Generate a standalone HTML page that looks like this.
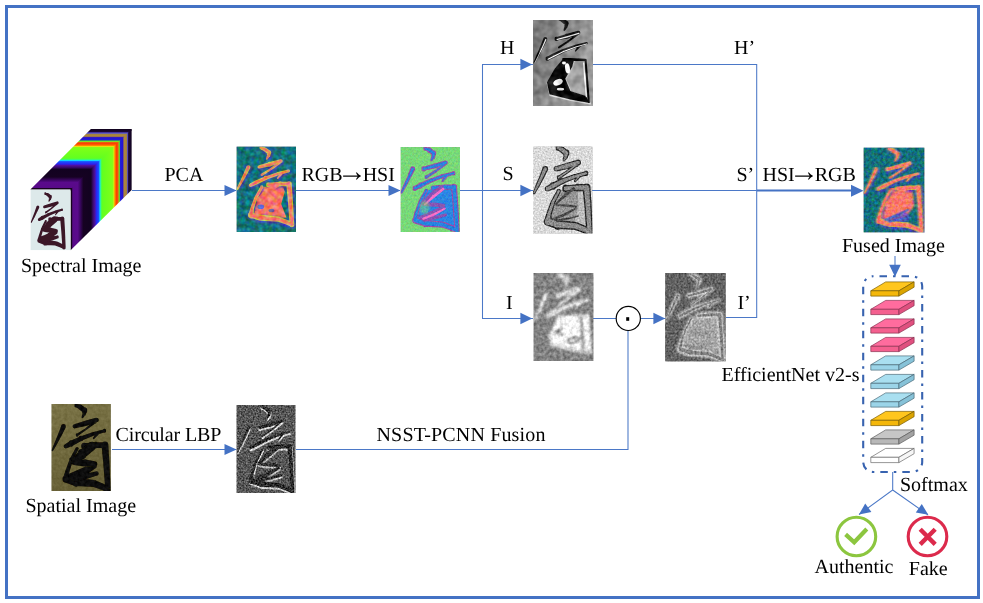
<!DOCTYPE html>
<html lang="en"><head><meta charset="utf-8"><title>Spectral-spatial fusion pipeline</title>
<style>html,body{margin:0;padding:0;background:#fff}svg{display:block}body>svg{will-change:transform}text{font-family:"Liberation Serif",serif;font-size:20px;fill:#000;text-rendering:geometricPrecision}</style>
</head><body>
<svg width="983" height="603" viewBox="0 0 983 603">
<defs>
<filter id="nS" filterUnits="userSpaceOnUse" x="0" y="0" width="62" height="90" color-interpolation-filters="sRGB"><feTurbulence type="fractalNoise" baseFrequency="0.6" numOctaves="2" seed="5" result="n"/><feColorMatrix in="n" type="matrix" values="1 0 0 0 0  1 0 0 0 0  1 0 0 0 0  0 0 0 0 1" result="g"/><feComposite in="SourceGraphic" in2="g" operator="arithmetic" k1="0" k2="1" k3="0.4" k4="-0.200"/></filter>
<filter id="nI" filterUnits="userSpaceOnUse" x="0" y="0" width="62" height="90" color-interpolation-filters="sRGB"><feTurbulence type="fractalNoise" baseFrequency="0.3" numOctaves="2" seed="9" result="n"/><feColorMatrix in="n" type="matrix" values="1 0 0 0 0  1 0 0 0 0  1 0 0 0 0  0 0 0 0 1" result="g"/><feComposite in="SourceGraphic" in2="g" operator="arithmetic" k1="0" k2="1" k3="0.42" k4="-0.210"/></filter>
<filter id="nI2" filterUnits="userSpaceOnUse" x="0" y="0" width="62" height="90" color-interpolation-filters="sRGB"><feTurbulence type="fractalNoise" baseFrequency="0.5" numOctaves="2" seed="13" result="n"/><feColorMatrix in="n" type="matrix" values="1 0 0 0 0  1 0 0 0 0  1 0 0 0 0  0 0 0 0 1" result="g"/><feComposite in="SourceGraphic" in2="g" operator="arithmetic" k1="0" k2="1" k3="0.5" k4="-0.250"/></filter>
<filter id="nL" filterUnits="userSpaceOnUse" x="0" y="0" width="62" height="90" color-interpolation-filters="sRGB"><feTurbulence type="fractalNoise" baseFrequency="0.6" numOctaves="2" seed="21" result="n"/><feColorMatrix in="n" type="matrix" values="1 0 0 0 0  1 0 0 0 0  1 0 0 0 0  0 0 0 0 1" result="g"/><feComposite in="SourceGraphic" in2="g" operator="arithmetic" k1="0" k2="1" k3="0.7" k4="-0.350"/></filter>
<filter id="nH" filterUnits="userSpaceOnUse" x="0" y="0" width="62" height="90" color-interpolation-filters="sRGB"><feTurbulence type="fractalNoise" baseFrequency="0.12" numOctaves="2" seed="4" result="n"/><feColorMatrix in="n" type="matrix" values="1 0 0 0 0  1 0 0 0 0  1 0 0 0 0  0 0 0 0 1" result="g"/><feComposite in="SourceGraphic" in2="g" operator="arithmetic" k1="0" k2="1" k3="0.35" k4="-0.175"/></filter>
<filter id="nP" filterUnits="userSpaceOnUse" x="0" y="0" width="62" height="90" color-interpolation-filters="sRGB"><feTurbulence type="fractalNoise" baseFrequency="0.22" numOctaves="2" seed="17" result="n"/><feColorMatrix in="n" type="matrix" values="0.5 0 0 0 0.25  0 1 0 0 0  0 0 1.3 0 -0.15  0 0 0 0 1" result="g"/><feComposite in="SourceGraphic" in2="g" operator="arithmetic" k1="0" k2="1" k3="0.5" k4="-0.250"/></filter>
<filter id="nF" filterUnits="userSpaceOnUse" x="0" y="0" width="62" height="90" color-interpolation-filters="sRGB"><feTurbulence type="fractalNoise" baseFrequency="0.35" numOctaves="2" seed="29" result="n"/><feColorMatrix in="n" type="matrix" values="0.5 0 0 0 0.25  0 1 0 0 0  0 0 1.3 0 -0.15  0 0 0 0 1" result="g"/><feComposite in="SourceGraphic" in2="g" operator="arithmetic" k1="0" k2="1" k3="0.45" k4="-0.225"/></filter>
<filter id="nG" filterUnits="userSpaceOnUse" x="0" y="0" width="62" height="90" color-interpolation-filters="sRGB"><feTurbulence type="fractalNoise" baseFrequency="0.5" numOctaves="2" seed="31" result="n"/><feColorMatrix in="n" type="matrix" values="1 0 0 0 0  0 1 0 0 0  0 0 1 0 0  0 0 0 0 1" result="g"/><feComposite in="SourceGraphic" in2="g" operator="arithmetic" k1="0" k2="1" k3="0.25" k4="-0.125"/></filter>
<filter id="nO" filterUnits="userSpaceOnUse" x="0" y="0" width="62" height="90" color-interpolation-filters="sRGB"><feTurbulence type="fractalNoise" baseFrequency="0.3" numOctaves="2" seed="37" result="n"/><feColorMatrix in="n" type="matrix" values="1 0 0 0 0  1 0 0 0 0  1 0 0 0 0  0 0 0 0 1" result="g"/><feComposite in="SourceGraphic" in2="g" operator="arithmetic" k1="0" k2="1" k3="0.12" k4="-0.060"/></filter>
<filter id="b05" x="-20%" y="-20%" width="140%" height="140%"><feGaussianBlur stdDeviation="0.5"/></filter>
<filter id="b1" x="-20%" y="-20%" width="140%" height="140%"><feGaussianBlur stdDeviation="0.8"/></filter>
<filter id="b2" x="-20%" y="-20%" width="140%" height="140%"><feGaussianBlur stdDeviation="1.3"/></filter>
<filter id="b3" x="-20%" y="-20%" width="140%" height="140%"><feGaussianBlur stdDeviation="2.0"/></filter>
<linearGradient id="gTop" gradientUnits="userSpaceOnUse" x1="0" y1="189.6" x2="0" y2="129"><stop offset="0.0000" stop-color="#14021c"/><stop offset="0.0233" stop-color="#18031f"/><stop offset="0.0333" stop-color="#580a88"/><stop offset="0.1167" stop-color="#5a0a8c"/><stop offset="0.1583" stop-color="#3a0660"/><stop offset="0.2083" stop-color="#160222"/><stop offset="0.3333" stop-color="#120220"/><stop offset="0.3667" stop-color="#3a0a6a"/><stop offset="0.4000" stop-color="#5010a0"/><stop offset="0.4200" stop-color="#2a22f0"/><stop offset="0.4617" stop-color="#1a50ff"/><stop offset="0.4817" stop-color="#10e0ff"/><stop offset="0.4983" stop-color="#40ff60"/><stop offset="0.5183" stop-color="#62ff20"/><stop offset="0.6733" stop-color="#7cff18"/><stop offset="0.6967" stop-color="#8cf818"/><stop offset="0.7100" stop-color="#e8e810"/><stop offset="0.7233" stop-color="#ff9000"/><stop offset="0.7550" stop-color="#ff3800"/><stop offset="0.7800" stop-color="#e86010"/><stop offset="0.7933" stop-color="#80e020"/><stop offset="0.8067" stop-color="#40c040"/><stop offset="0.8167" stop-color="#2020d8"/><stop offset="0.8583" stop-color="#2810d0"/><stop offset="0.8683" stop-color="#806070"/><stop offset="0.8850" stop-color="#b08838"/><stop offset="0.9167" stop-color="#a08040"/><stop offset="0.9267" stop-color="#6060c0"/><stop offset="0.9433" stop-color="#4030a0"/><stop offset="0.9500" stop-color="#1c0838"/><stop offset="1.0000" stop-color="#10021c"/></linearGradient>
<linearGradient id="gSide" gradientUnits="userSpaceOnUse" x1="70.6" y1="0" x2="131.6" y2="0"><stop offset="0.0000" stop-color="#14021c"/><stop offset="0.0233" stop-color="#18031f"/><stop offset="0.0333" stop-color="#580a88"/><stop offset="0.1167" stop-color="#5a0a8c"/><stop offset="0.1583" stop-color="#3a0660"/><stop offset="0.2083" stop-color="#160222"/><stop offset="0.3333" stop-color="#120220"/><stop offset="0.3667" stop-color="#3a0a6a"/><stop offset="0.4000" stop-color="#5010a0"/><stop offset="0.4200" stop-color="#2a22f0"/><stop offset="0.4617" stop-color="#1a50ff"/><stop offset="0.4817" stop-color="#10e0ff"/><stop offset="0.4983" stop-color="#40ff60"/><stop offset="0.5183" stop-color="#62ff20"/><stop offset="0.6733" stop-color="#7cff18"/><stop offset="0.6967" stop-color="#8cf818"/><stop offset="0.7100" stop-color="#e8e810"/><stop offset="0.7233" stop-color="#ff9000"/><stop offset="0.7550" stop-color="#ff3800"/><stop offset="0.7800" stop-color="#e86010"/><stop offset="0.7933" stop-color="#80e020"/><stop offset="0.8067" stop-color="#40c040"/><stop offset="0.8167" stop-color="#2020d8"/><stop offset="0.8583" stop-color="#2810d0"/><stop offset="0.8683" stop-color="#806070"/><stop offset="0.8850" stop-color="#b08838"/><stop offset="0.9167" stop-color="#a08040"/><stop offset="0.9267" stop-color="#6060c0"/><stop offset="0.9433" stop-color="#4030a0"/><stop offset="0.9500" stop-color="#1c0838"/><stop offset="1.0000" stop-color="#10021c"/></linearGradient>
<linearGradient id="gH" x1="0" y1="0" x2="1" y2="0.3"><stop offset="0" stop-color="#767676"/><stop offset="0.6" stop-color="#8e8e8e"/><stop offset="1" stop-color="#9a9a9a"/></linearGradient>
<linearGradient id="gSp" x1="0" y1="0" x2="0.2" y2="1"><stop offset="0" stop-color="#7a7346"/><stop offset="1" stop-color="#676036"/></linearGradient>
</defs>
<rect width="983" height="603" fill="#fff"/>
<rect x="6.5" y="6.5" width="972" height="591" fill="none" stroke="#4472c4" stroke-width="3"/>
<g fill="none" stroke="#4b78c7" stroke-width="1.05">
<path d="M132 190.5 H236"/>
<path d="M296 190.5 H400"/>
<path d="M460 190.5 H533"/>
<path d="M533 64.5 H482.5 V318.5 H533"/>
<path d="M593 64.5 H756.7 V317.5 H726"/>
<path d="M592 190.5 H756.7"/>
<path d="M593 318.5 H616"/>
<path d="M641 318.5 H666"/>
<path d="M112 449.5 H236"/>
<path d="M296 449.5 H628 V331"/>
<path d="M895 256 V270"/>
<path d="M892.7 472 V490 L859 514.5 M892.7 490 L928 514.8"/>
</g>
<path d="M757 190.6 H855" fill="none" stroke="#4472c4" stroke-width="2"/>
<polygon points="236.5,190.5 224.5,196.0 224.5,185.0" fill="#4472c4"/>
<polygon points="400.5,190.5 388.5,196.0 388.5,185.0" fill="#4472c4"/>
<polygon points="532.2,64.5 520.4,70.2 520.4,58.8" fill="#4472c4"/>
<polygon points="532.2,190.5 520.4,196.2 520.4,184.8" fill="#4472c4"/>
<polygon points="532.2,318.5 520.4,324.2 520.4,312.8" fill="#4472c4"/>
<polygon points="665.2,318.5 653.4,324.2 653.4,312.8" fill="#4472c4"/>
<polygon points="236.5,449.5 224.5,455.0 224.5,444.0" fill="#4472c4"/>
<polygon points="863.5,190.7 851.0,196.7 851.0,184.7" fill="#4472c4"/>
<polygon points="895.0,276.8 889.2,264.8 900.8,264.8" fill="#4472c4"/>
<polygon points="859.0,514.5 865.2,503.5 871.4,512.0" fill="#4472c4"/>
<polygon points="928.2,514.8 915.8,512.5 921.8,503.9" fill="#4472c4"/>
<polygon points="30.4,189.6 70.6,189.6 70.6,191 131.6,130.4 131.6,129 90.9,129" fill="url(#gTop)"/>
<polygon points="70.6,189.6 131.6,129 131.6,190 70.6,250.3" fill="url(#gSide)"/>
<svg x="30.4" y="189.6" width="40.2" height="60.7" viewBox="0 0 40.2 60.7" overflow="hidden">
<g>
<rect width="40.2" height="60.7" fill="#dde9ea"/>

<g transform="scale(0.6700 0.6977)">
<g transform="translate(0.4 4.4) scale(0.873 0.914)">
<path d="M23.4 1.5a1.7 1.7 0 1 0 3.3 0a1.7 1.7 0 1 0 -3.3 0zM26.5 3a2.5 2.5 0 1 0 5 0a2.5 2.5 0 1 0 -5 0zM30.7 6.5a2.8 2.8 0 1 0 5.5 0a2.8 2.8 0 1 0 -5.5 0zM31.1 10a1.9 1.9 0 1 0 3.9 0a1.9 1.9 0 1 0 -3.9 0zM30.3 13.5a0.9 0.9 0 1 0 1.8 0a0.9 0.9 0 1 0 -1.8 0zM24.4 3L28.1 5.3L29.9 0.7L25.6 0zM27.5 5L31.8 8.7L35.2 4.3L30.5 1zM30.8 6.1L31.1 9.7L34.9 10.3L36.2 6.9zM31.3 9.1L30.4 13.1L32 13.9L34.7 10.9zM9.8 22.5a2.5 2.5 0 1 0 5 0a2.5 2.5 0 1 0 -5 0zM7 30a2 2 0 1 0 4.1 0a2 2 0 1 0 -4.1 0zM3.4 38.5a1.6 1.6 0 1 0 3.2 0a1.6 1.6 0 1 0 -3.2 0zM0.1 46.5a0.9 0.9 0 1 0 1.8 0a0.9 0.9 0 1 0 -1.8 0zM10 21.5L7.1 29.2L10.9 30.8L14.6 23.5zM7.2 29.1L3.6 37.8L6.4 39.2L10.8 30.9zM3.6 37.8L0.2 46.1L1.8 46.9L6.4 39.2zM21.3 22.3a2.2 2.2 0 1 0 4.4 0a2.2 2.2 0 1 0 -4.4 0zM31.3 19.5a2.7 2.7 0 1 0 5.4 0a2.7 2.7 0 1 0 -5.4 0zM43.1 16a2.4 2.4 0 1 0 4.8 0a2.4 2.4 0 1 0 -4.8 0zM24.1 24.4L34.7 22.1L33.3 16.9L22.9 20.2zM34.8 22.1L46.2 18.3L44.8 13.7L33.2 16.9zM42.6 18a1.4 1.4 0 1 0 2.7 0a1.4 1.4 0 1 0 -2.7 0zM33.9 25a1.1 1.1 0 1 0 2.2 0a1.1 1.1 0 1 0 -2.2 0zM24.6 31a1.4 1.4 0 1 0 2.7 0a1.4 1.4 0 1 0 -2.7 0zM43.2 16.9L34.3 24.1L35.7 25.9L44.8 19.1zM34.4 24.1L25.2 29.9L26.8 32.1L35.6 25.9zM51.9 26.8a1.7 1.7 0 1 0 3.3 0a1.7 1.7 0 1 0 -3.3 0zM40.1 30a1.9 1.9 0 1 0 3.9 0a1.9 1.9 0 1 0 -3.9 0zM27.7 34.5a2.3 2.3 0 1 0 4.5 0a2.3 2.3 0 1 0 -4.5 0zM17.2 39.5a2.8 2.8 0 1 0 5.5 0a2.8 2.8 0 1 0 -5.5 0zM12.3 42.3a2.2 2.2 0 1 0 4.4 0a2.2 2.2 0 1 0 -4.4 0zM53.1 25.2L41.5 28.1L42.5 31.9L53.9 28.4zM41.3 28.2L29.2 32.4L30.8 36.6L42.7 31.8zM29 32.5L18.8 37L21.2 42L31 36.5zM18.7 37L13.5 40.3L15.5 44.3L21.3 42zM45 29.5a1.5 1.5 0 1 0 3 0a1.5 1.5 0 1 0 -3 0zM41.7 34.5a0.8 0.8 0 1 0 1.6 0a0.8 0.8 0 1 0 -1.6 0zM45.3 28.6L41.9 34L43.1 35L47.7 30.4zM30.1 42a2.9 2.9 0 1 0 5.7 0a2.9 2.9 0 1 0 -5.7 0zM42.1 41a2.9 2.9 0 1 0 5.7 0a2.9 2.9 0 1 0 -5.7 0zM50.8 41a3.2 3.2 0 1 0 6.4 0a3.2 3.2 0 1 0 -6.4 0zM33.2 44.8L45.2 43.8L44.8 38.2L32.8 39.2zM45 43.9L54 44.2L54 37.8L45 38.1zM50.5 41a3.5 3.5 0 1 0 7 0a3.5 3.5 0 1 0 -7 0zM52.3 60a3.2 3.2 0 1 0 6.4 0a3.2 3.2 0 1 0 -6.4 0zM54.1 85a2.9 2.9 0 1 0 5.7 0a2.9 2.9 0 1 0 -5.7 0zM50.5 41.3L52.3 60.2L58.7 59.8L57.5 40.7zM52.3 60.2L54.2 85.2L59.8 84.8L58.7 59.8zM24.3 44.5a1.7 1.7 0 1 0 3.4 0a1.7 1.7 0 1 0 -3.4 0zM18.1 56a1.9 1.9 0 1 0 3.8 0a1.9 1.9 0 1 0 -3.8 0zM13.8 68a2.2 2.2 0 1 0 4.4 0a2.2 2.2 0 1 0 -4.4 0zM11.5 75a3.5 3.5 0 1 0 7 0a3.5 3.5 0 1 0 -7 0zM24.5 43.7L18.3 55.1L21.7 56.9L27.5 45.3zM18.2 55.4L13.9 67.3L18.1 68.7L21.8 56.6zM13.8 67.7L11.5 74.5L18.5 75.5L18.2 68.3zM11.2 75a3.8 3.8 0 1 0 7.7 0a3.8 3.8 0 1 0 -7.7 0zM20.9 78a4.2 4.2 0 1 0 8.3 0a4.2 4.2 0 1 0 -8.3 0zM39.5 79.5a3.5 3.5 0 1 0 7 0a3.5 3.5 0 1 0 -7 0zM48.8 83a3.2 3.2 0 1 0 6.4 0a3.2 3.2 0 1 0 -6.4 0zM54.1 85.5a2.9 2.9 0 1 0 5.7 0a2.9 2.9 0 1 0 -5.7 0zM13.9 78.7L23.8 82L26.2 74L16.1 71.3zM24.7 82.1L42.7 83L43.3 76L25.3 73.9zM41.7 82.8L50.8 86L53.2 80L44.3 76.2zM50.6 85.8L55.7 88L58.3 83L53.4 80.2z" fill="#3a1428" filter="url(#b05)"/>
<path d="M36.1 42a4.8 4.8 0 1 0 9.7 0a4.8 4.8 0 1 0 -9.7 0zM25.9 50a5.1 5.1 0 1 0 10.3 0a5.1 5.1 0 1 0 -10.3 0zM19.4 58a3.1 3.1 0 1 0 6.2 0a3.1 3.1 0 1 0 -6.2 0zM38 38.2L27.8 46L34.2 54L44 45.8zM27.5 46.3L20.4 55.7L24.6 60.3L34.5 53.7zM20.9 58.5a3.1 3.1 0 1 0 6.2 0a3.1 3.1 0 1 0 -6.2 0zM30 59a4 4 0 1 0 8 0a4 4 0 1 0 -8 0zM40.4 60a3.1 3.1 0 1 0 6.2 0a3.1 3.1 0 1 0 -6.2 0zM23.8 61.6L33.8 63L34.2 55L24.2 55.4zM33.6 63L43.2 63.1L43.8 56.9L34.4 55zM39.9 62a3.1 3.1 0 1 0 6.2 0a3.1 3.1 0 1 0 -6.2 0zM27.4 68a4.6 4.6 0 1 0 9.1 0a4.6 4.6 0 1 0 -9.1 0zM16.7 72.5a4.3 4.3 0 1 0 8.5 0a4.3 4.3 0 1 0 -8.5 0zM41.5 59.3L29.8 64L34.2 72L44.5 64.7zM30.3 63.8L19.4 68.5L22.6 76.5L33.7 72.2zM19.7 74a4.3 4.3 0 1 0 8.5 0a4.3 4.3 0 1 0 -8.5 0zM32.9 72a3.1 3.1 0 1 0 6.2 0a3.1 3.1 0 1 0 -6.2 0zM43 69.5a2.5 2.5 0 1 0 5.1 0a2.5 2.5 0 1 0 -5.1 0zM24.7 78.2L36.5 75.1L35.5 68.9L23.3 69.8zM36.8 75L46.1 72L44.9 67L35.2 69z" fill="#3a1428" filter="url(#b05)"/>
</g>
</g>

</g>
</svg>
<svg x="236.5" y="146.5" width="59.5" height="85.5" viewBox="0 0 59.5 85.5" overflow="hidden">
<g filter="url(#nP)">
<rect width="59.5" height="85.5" fill="#13727a"/>

<g transform="scale(0.9917 0.9828)">
<g transform="scale(0.98 0.93)">
<path d="M26 44L48 44L49.7 49.5L46 62.8L51.4 77.7L32.2 79.6L17.4 76L20 62.8z" fill="#f47664" filter="url(#b1)"/>
<path d="M22.8 1.5a2.2 2.2 0 1 0 4.3 0a2.2 2.2 0 1 0 -4.3 0zM26.1 3a2.9 2.9 0 1 0 5.8 0a2.9 2.9 0 1 0 -5.8 0zM30.3 6.5a3.2 3.2 0 1 0 6.3 0a3.2 3.2 0 1 0 -6.3 0zM30.6 10a2.4 2.4 0 1 0 4.8 0a2.4 2.4 0 1 0 -4.8 0zM29.7 13.5a1.5 1.5 0 1 0 3 0a1.5 1.5 0 1 0 -3 0zM24.2 3.5L28 5.7L30 0.3L25.8 -0.5zM27.2 5.3L31.6 9L35.4 4L30.8 0.7zM30.4 6.1L30.6 9.7L35.4 10.3L36.6 6.9zM30.9 8.9L29.9 12.8L32.5 14.2L35.1 11.1zM9.4 22.5a2.9 2.9 0 1 0 5.8 0a2.9 2.9 0 1 0 -5.8 0zM6.5 30a2.5 2.5 0 1 0 5 0a2.5 2.5 0 1 0 -5 0zM2.9 38.5a2.1 2.1 0 1 0 4.2 0a2.1 2.1 0 1 0 -4.2 0zM-0.5 46.5a1.5 1.5 0 1 0 3 0a1.5 1.5 0 1 0 -3 0zM9.6 21.3L6.7 29L11.3 31L15 23.7zM6.7 28.9L3.1 37.6L6.9 39.4L11.3 31.1zM3.1 37.6L-0.3 45.8L2.3 47.2L6.9 39.4zM20.8 22.3a2.7 2.7 0 1 0 5.3 0a2.7 2.7 0 1 0 -5.3 0zM30.9 19.5a3.1 3.1 0 1 0 6.2 0a3.1 3.1 0 1 0 -6.2 0zM42.7 16a2.8 2.8 0 1 0 5.6 0a2.8 2.8 0 1 0 -5.6 0zM24.2 24.9L34.8 22.5L33.2 16.5L22.8 19.7zM34.9 22.5L46.3 18.7L44.7 13.3L33.1 16.5zM42.1 18a1.9 1.9 0 1 0 3.8 0a1.9 1.9 0 1 0 -3.8 0zM33.3 25a1.7 1.7 0 1 0 3.3 0a1.7 1.7 0 1 0 -3.3 0zM24.1 31a1.9 1.9 0 1 0 3.8 0a1.9 1.9 0 1 0 -3.8 0zM42.8 16.5L34 23.7L36 26.3L45.2 19.5zM34.1 23.6L24.9 29.4L27.1 32.6L35.9 26.4zM51.3 26.8a2.2 2.2 0 1 0 4.3 0a2.2 2.2 0 1 0 -4.3 0zM39.6 30a2.4 2.4 0 1 0 4.8 0a2.4 2.4 0 1 0 -4.8 0zM27.3 34.5a2.7 2.7 0 1 0 5.4 0a2.7 2.7 0 1 0 -5.4 0zM16.8 39.5a3.2 3.2 0 1 0 6.3 0a3.2 3.2 0 1 0 -6.3 0zM11.8 42.3a2.7 2.7 0 1 0 5.3 0a2.7 2.7 0 1 0 -5.3 0zM52.9 24.7L41.4 27.7L42.6 32.3L54.1 28.9zM41.2 27.7L29 32L31 37L42.8 32.3zM28.8 32.1L18.6 36.7L21.4 42.3L31.2 36.9zM18.6 36.7L13.3 39.9L15.7 44.7L21.4 42.3zM44.5 29.5a2 2 0 1 0 4 0a2 2 0 1 0 -4 0zM41.1 34.5a1.4 1.4 0 1 0 2.8 0a1.4 1.4 0 1 0 -2.8 0zM44.9 28.2L41.4 33.6L43.6 35.4L48.1 30.8zM29.8 42a3.2 3.2 0 1 0 6.5 0a3.2 3.2 0 1 0 -6.5 0zM41.8 41a3.2 3.2 0 1 0 6.5 0a3.2 3.2 0 1 0 -6.5 0zM50.5 41a3.5 3.5 0 1 0 7.1 0a3.5 3.5 0 1 0 -7.1 0zM33.3 45.2L45.3 44.2L44.7 37.8L32.7 38.8zM45 44.2L54 44.5L54 37.5L45 37.8zM50.2 41a3.8 3.8 0 1 0 7.7 0a3.8 3.8 0 1 0 -7.7 0zM52 60a3.5 3.5 0 1 0 7.1 0a3.5 3.5 0 1 0 -7.1 0zM53.8 85a3.2 3.2 0 1 0 6.5 0a3.2 3.2 0 1 0 -6.5 0zM50.2 41.3L52 60.3L59 59.7L57.8 40.7zM52 60.2L53.8 85.2L60.2 84.8L59 59.8zM23.8 44.5a2.2 2.2 0 1 0 4.4 0a2.2 2.2 0 1 0 -4.4 0zM17.6 56a2.4 2.4 0 1 0 4.7 0a2.4 2.4 0 1 0 -4.7 0zM13.3 68a2.7 2.7 0 1 0 5.3 0a2.7 2.7 0 1 0 -5.3 0zM11.2 75a3.8 3.8 0 1 0 7.7 0a3.8 3.8 0 1 0 -7.7 0zM24.1 43.5L17.9 54.9L22.1 57.1L27.9 45.5zM17.8 55.3L13.5 67.2L18.5 68.8L22.2 56.7zM13.4 67.6L11.2 74.5L18.8 75.5L18.6 68.4zM10.9 75a4.1 4.1 0 1 0 8.2 0a4.1 4.1 0 1 0 -8.2 0zM20.6 78a4.4 4.4 0 1 0 8.8 0a4.4 4.4 0 1 0 -8.8 0zM39.2 79.5a3.8 3.8 0 1 0 7.7 0a3.8 3.8 0 1 0 -7.7 0zM48.5 83a3.5 3.5 0 1 0 7.1 0a3.5 3.5 0 1 0 -7.1 0zM53.8 85.5a3.2 3.2 0 1 0 6.5 0a3.2 3.2 0 1 0 -6.5 0zM13.8 78.9L23.7 82.2L26.3 73.8L16.2 71.1zM24.6 82.4L42.7 83.3L43.3 75.7L25.4 73.6zM41.6 83.1L50.7 86.3L53.3 79.7L44.4 75.9zM50.4 86.2L55.6 88.4L58.4 82.6L53.6 79.8z" fill="#5438b8" filter="url(#b2)" opacity="0.8" transform="translate(0.7 1.1)"/>
<path d="M23.5 1.5a1.5 1.5 0 1 0 3.1 0a1.5 1.5 0 1 0 -3.1 0zM26.9 3a2.1 2.1 0 1 0 4.2 0a2.1 2.1 0 1 0 -4.2 0zM31.2 6.5a2.3 2.3 0 1 0 4.6 0a2.3 2.3 0 1 0 -4.6 0zM31.3 10a1.7 1.7 0 1 0 3.5 0a1.7 1.7 0 1 0 -3.5 0zM30.2 13.5a1 1 0 1 0 2 0a1 1 0 1 0 -2 0zM24.5 2.9L28.3 5L29.7 1L25.5 0.1zM27.7 4.7L32.1 8.3L34.9 4.7L30.3 1.3zM31.2 6.2L31.3 9.8L34.7 10.2L35.8 6.8zM31.5 9.2L30.3 13L32.1 14L34.5 10.8zM10.2 22.5a2.1 2.1 0 1 0 4.2 0a2.1 2.1 0 1 0 -4.2 0zM7.2 30a1.8 1.8 0 1 0 3.6 0a1.8 1.8 0 1 0 -3.6 0zM3.5 38.5a1.5 1.5 0 1 0 3 0a1.5 1.5 0 1 0 -3 0zM0 46.5a1 1 0 1 0 2 0a1 1 0 1 0 -2 0zM10.4 21.6L7.3 29.3L10.7 30.7L14.2 23.4zM7.4 29.2L3.7 37.9L6.3 39.1L10.6 30.8zM3.7 37.8L0.1 46L1.9 47L6.3 39.2zM21.6 22.3a1.9 1.9 0 1 0 3.8 0a1.9 1.9 0 1 0 -3.8 0zM31.7 19.5a2.3 2.3 0 1 0 4.5 0a2.3 2.3 0 1 0 -4.5 0zM43.5 16a2 2 0 1 0 4.1 0a2 2 0 1 0 -4.1 0zM24 24.2L34.6 21.7L33.4 17.3L23 20.4zM34.7 21.7L46.1 18L44.9 14L33.3 17.3zM42.7 18a1.3 1.3 0 1 0 2.7 0a1.3 1.3 0 1 0 -2.7 0zM33.9 25a1.1 1.1 0 1 0 2.3 0a1.1 1.1 0 1 0 -2.3 0zM24.7 31a1.3 1.3 0 1 0 2.7 0a1.3 1.3 0 1 0 -2.7 0zM43.2 16.9L34.3 24.1L35.7 25.9L44.8 19.1zM34.4 24.1L25.3 29.9L26.7 32.1L35.6 25.9zM52 26.8a1.5 1.5 0 1 0 3.1 0a1.5 1.5 0 1 0 -3.1 0zM40.3 30a1.7 1.7 0 1 0 3.5 0a1.7 1.7 0 1 0 -3.5 0zM28 34.5a2 2 0 1 0 3.9 0a2 2 0 1 0 -3.9 0zM17.7 39.5a2.3 2.3 0 1 0 4.6 0a2.3 2.3 0 1 0 -4.6 0zM12.6 42.3a1.9 1.9 0 1 0 3.8 0a1.9 1.9 0 1 0 -3.8 0zM53.1 25.3L41.5 28.3L42.5 31.7L53.9 28.3zM41.4 28.4L29.3 32.7L30.7 36.3L42.6 31.6zM29.1 32.7L19 37.4L21 41.6L30.9 36.3zM19 37.4L13.6 40.6L15.4 44L21 41.6zM45.1 29.5a1.4 1.4 0 1 0 2.8 0a1.4 1.4 0 1 0 -2.8 0zM41.6 34.5a0.9 0.9 0 1 0 1.9 0a0.9 0.9 0 1 0 -1.9 0zM45.4 28.6L41.8 33.9L43.2 35.1L47.6 30.4zM30.6 42a2.4 2.4 0 1 0 4.7 0a2.4 2.4 0 1 0 -4.7 0zM42.6 41a2.4 2.4 0 1 0 4.7 0a2.4 2.4 0 1 0 -4.7 0zM51.4 41a2.6 2.6 0 1 0 5.2 0a2.6 2.6 0 1 0 -5.2 0zM33.2 44.4L45.2 43.4L44.8 38.6L32.8 39.6zM45 43.4L54 43.6L54 38.4L45 38.6zM51.2 41a2.8 2.8 0 1 0 5.7 0a2.8 2.8 0 1 0 -5.7 0zM52.9 60a2.6 2.6 0 1 0 5.2 0a2.6 2.6 0 1 0 -5.2 0zM54.6 85a2.4 2.4 0 1 0 4.7 0a2.4 2.4 0 1 0 -4.7 0zM51.2 41.2L52.9 60.2L58.1 59.8L56.8 40.8zM52.9 60.2L54.6 85.1L59.4 84.9L58.1 59.8zM24.4 44.5a1.6 1.6 0 1 0 3.1 0a1.6 1.6 0 1 0 -3.1 0zM18.3 56a1.7 1.7 0 1 0 3.4 0a1.7 1.7 0 1 0 -3.4 0zM14.1 68a1.9 1.9 0 1 0 3.8 0a1.9 1.9 0 1 0 -3.8 0zM12.2 75a2.8 2.8 0 1 0 5.7 0a2.8 2.8 0 1 0 -5.7 0zM24.6 43.8L18.5 55.2L21.5 56.8L27.4 45.2zM18.4 55.5L14.2 67.4L17.8 68.6L21.6 56.5zM14.1 67.7L12.2 74.6L17.8 75.4L17.9 68.3zM11.9 75a3.1 3.1 0 1 0 6.1 0a3.1 3.1 0 1 0 -6.1 0zM21.7 78a3.3 3.3 0 1 0 6.6 0a3.3 3.3 0 1 0 -6.6 0zM40.2 79.5a2.8 2.8 0 1 0 5.7 0a2.8 2.8 0 1 0 -5.7 0zM49.4 83a2.6 2.6 0 1 0 5.2 0a2.6 2.6 0 1 0 -5.2 0zM54.6 85.5a2.4 2.4 0 1 0 4.7 0a2.4 2.4 0 1 0 -4.7 0zM14.1 77.9L24.1 81.1L25.9 74.9L15.9 72.1zM24.7 81.3L42.8 82.3L43.2 76.7L25.3 74.7zM42 82.1L51.1 85.4L52.9 80.6L44 76.9zM50.8 85.3L55.9 87.6L58.1 83.4L53.2 80.7z" fill="#d8c844" filter="url(#b1)" opacity="0.9"/>
<path d="M24.3 1.5a0.7 0.7 0 1 0 1.4 0a0.7 0.7 0 1 0 -1.4 0zM27.9 3a1.1 1.1 0 1 0 2.2 0a1.1 1.1 0 1 0 -2.2 0zM32.2 6.5a1.3 1.3 0 1 0 2.5 0a1.3 1.3 0 1 0 -2.5 0zM32.2 10a0.8 0.8 0 1 0 1.7 0a0.8 0.8 0 1 0 -1.7 0zM30.9 13.5a0.3 0.3 0 1 0 0.7 0a0.3 0.3 0 1 0 -0.7 0zM24.8 2.2L28.6 4L29.4 2L25.2 0.8zM28.3 3.9L32.7 7.5L34.3 5.5L29.7 2.1zM32.3 6.3L32.2 9.9L33.8 10.1L34.7 6.7zM32.3 9.6L30.9 13.3L31.5 13.7L33.7 10.4zM11.2 22.5a1.1 1.1 0 1 0 2.2 0a1.1 1.1 0 1 0 -2.2 0zM8.1 30a0.9 0.9 0 1 0 1.8 0a0.9 0.9 0 1 0 -1.8 0zM4.3 38.5a0.7 0.7 0 1 0 1.3 0a0.7 0.7 0 1 0 -1.3 0zM0.7 46.5a0.3 0.3 0 1 0 0.7 0a0.3 0.3 0 1 0 -0.7 0zM11.3 22L8.2 29.6L9.8 30.4L13.3 23zM8.2 29.6L4.4 38.2L5.6 38.8L9.8 30.4zM4.4 38.2L0.7 46.3L1.3 46.7L5.6 38.8zM22.5 22.3a1 1 0 1 0 2 0a1 1 0 1 0 -2 0zM32.8 19.5a1.2 1.2 0 1 0 2.5 0a1.2 1.2 0 1 0 -2.5 0zM44.4 16a1.1 1.1 0 1 0 2.1 0a1.1 1.1 0 1 0 -2.1 0zM23.8 23.2L34.3 20.7L33.7 18.3L23.2 21.4zM34.4 20.7L45.8 17L45.2 15L33.6 18.3zM43.4 18a0.6 0.6 0 1 0 1.1 0a0.6 0.6 0 1 0 -1.1 0zM34.6 25a0.4 0.4 0 1 0 0.8 0a0.4 0.4 0 1 0 -0.8 0zM25.4 31a0.6 0.6 0 1 0 1.1 0a0.6 0.6 0 1 0 -1.1 0zM43.7 17.6L34.7 24.7L35.3 25.3L44.3 18.4zM34.8 24.7L25.7 30.5L26.3 31.5L35.2 25.3zM52.8 26.8a0.7 0.7 0 1 0 1.4 0a0.7 0.7 0 1 0 -1.4 0zM41.2 30a0.8 0.8 0 1 0 1.7 0a0.8 0.8 0 1 0 -1.7 0zM29 34.5a1 1 0 1 0 2 0a1 1 0 1 0 -2 0zM18.7 39.5a1.3 1.3 0 1 0 2.5 0a1.3 1.3 0 1 0 -2.5 0zM13.5 42.3a1 1 0 1 0 2 0a1 1 0 1 0 -2 0zM53.3 26.1L41.8 29.2L42.2 30.8L53.7 27.5zM41.7 29.2L29.6 33.6L30.4 35.4L42.3 30.8zM29.5 33.6L19.4 38.4L20.6 40.6L30.5 35.4zM19.4 38.4L14.1 41.4L14.9 43.2L20.6 40.6zM45.9 29.5a0.6 0.6 0 1 0 1.2 0a0.6 0.6 0 1 0 -1.2 0zM42.2 34.5a0.3 0.3 0 1 0 0.6 0a0.3 0.3 0 1 0 -0.6 0zM46 29.1L42.3 34.3L42.7 34.7L47 29.9zM31.7 42a1.3 1.3 0 1 0 2.6 0a1.3 1.3 0 1 0 -2.6 0zM43.7 41a1.3 1.3 0 1 0 2.6 0a1.3 1.3 0 1 0 -2.6 0zM52.5 41a1.5 1.5 0 1 0 2.9 0a1.5 1.5 0 1 0 -2.9 0zM33.1 43.3L45.1 42.3L44.9 39.7L32.9 40.7zM45 42.3L54 42.5L54 39.5L45 39.7zM52.4 41a1.6 1.6 0 1 0 3.2 0a1.6 1.6 0 1 0 -3.2 0zM54 60a1.5 1.5 0 1 0 2.9 0a1.5 1.5 0 1 0 -2.9 0zM55.7 85a1.3 1.3 0 1 0 2.6 0a1.3 1.3 0 1 0 -2.6 0zM52.4 41.1L54 60.1L57 59.9L55.6 40.9zM54 60.1L55.7 85.1L58.3 84.9L57 59.9zM25.3 44.5a0.7 0.7 0 1 0 1.4 0a0.7 0.7 0 1 0 -1.4 0zM19.2 56a0.8 0.8 0 1 0 1.6 0a0.8 0.8 0 1 0 -1.6 0zM15 68a1 1 0 1 0 2 0a1 1 0 1 0 -2 0zM13.4 75a1.6 1.6 0 1 0 3.2 0a1.6 1.6 0 1 0 -3.2 0zM25.4 44.2L19.3 55.6L20.7 56.4L26.6 44.8zM19.2 55.7L15.1 67.7L16.9 68.3L20.8 56.3zM15 67.9L13.4 74.8L16.6 75.2L17 68.1zM13.2 75a1.8 1.8 0 1 0 3.6 0a1.8 1.8 0 1 0 -3.6 0zM23.1 78a2 2 0 1 0 3.9 0a2 2 0 1 0 -3.9 0zM41.4 79.5a1.6 1.6 0 1 0 3.2 0a1.6 1.6 0 1 0 -3.2 0zM50.5 83a1.5 1.5 0 1 0 2.9 0a1.5 1.5 0 1 0 -2.9 0zM55.7 85.5a1.3 1.3 0 1 0 2.6 0a1.3 1.3 0 1 0 -2.6 0zM14.5 76.7L24.4 79.9L25.6 76.1L15.5 73.3zM24.8 79.9L42.9 81.1L43.1 77.9L25.2 76.1zM42.4 81L51.5 84.4L52.5 81.6L43.6 78zM51.3 84.3L56.4 86.7L57.6 84.3L52.7 81.7z" fill="#f47664" filter="url(#b05)"/>
<path d="M38.2 42a2.8 2.8 0 1 0 5.6 0a2.8 2.8 0 1 0 -5.6 0zM28 50a3 3 0 1 0 5.9 0a3 3 0 1 0 -5.9 0zM20.8 58a1.8 1.8 0 1 0 3.5 0a1.8 1.8 0 1 0 -3.5 0zM39.3 39.8L29.1 47.7L32.9 52.3L42.7 44.2zM29 47.8L21.3 56.7L23.7 59.3L33 52.2zM22.2 58.5a1.8 1.8 0 1 0 3.5 0a1.8 1.8 0 1 0 -3.5 0zM31.7 59a2.3 2.3 0 1 0 4.5 0a2.3 2.3 0 1 0 -4.5 0zM41.8 60a1.8 1.8 0 1 0 3.5 0a1.8 1.8 0 1 0 -3.5 0zM23.9 60.2L33.9 61.3L34.1 56.7L24.1 56.8zM33.8 61.3L43.3 61.7L43.7 58.3L34.2 56.7zM41.2 62a1.8 1.8 0 1 0 3.5 0a1.8 1.8 0 1 0 -3.5 0zM29.4 68a2.6 2.6 0 1 0 5.2 0a2.6 2.6 0 1 0 -5.2 0zM18.6 72.5a2.4 2.4 0 1 0 4.9 0a2.4 2.4 0 1 0 -4.9 0zM42.2 60.5L30.7 65.7L33.3 70.3L43.8 63.5zM31 65.6L20.1 70.2L21.9 74.8L33 70.4z" fill="#f47664" filter="url(#b1)"/>
<ellipse cx="25" cy="66" rx="3.5" ry="2.5" fill="#3060d0" opacity="0.8" filter="url(#b1)"/><ellipse cx="36" cy="70" rx="3" ry="2" fill="#3060d0" opacity="0.7" filter="url(#b1)"/>
</g>
</g>

</g>
</svg>
<svg x="400.5" y="147" width="59.5" height="85" viewBox="0 0 59.5 85" overflow="hidden">
<g filter="url(#nG)">
<rect width="59.5" height="85" fill="#78d878"/>

<g transform="scale(0.9917 0.9770)">
<path d="M33 42L54 41L57 85L35 79L15 75L20 56L26 44.5z" fill="#2a86e2" filter="url(#b1)" transform="translate(2.2 2) scale(0.95 0.96)"/>
<path d="M23.2 1.5a1.8 1.8 0 1 0 3.5 0a1.8 1.8 0 1 0 -3.5 0zM26.6 3a2.4 2.4 0 1 0 4.7 0a2.4 2.4 0 1 0 -4.7 0zM30.9 6.5a2.6 2.6 0 1 0 5.1 0a2.6 2.6 0 1 0 -5.1 0zM31 10a2 2 0 1 0 3.9 0a2 2 0 1 0 -3.9 0zM30 13.5a1.2 1.2 0 1 0 2.5 0a1.2 1.2 0 1 0 -2.5 0zM24.4 3.1L28.2 5.2L29.8 0.8L25.6 -0.1zM27.5 4.9L31.9 8.5L35.1 4.5L30.5 1.1zM31 6.1L31.1 9.7L34.9 10.3L36 6.9zM31.3 9.1L30.1 12.9L32.3 14.1L34.7 10.9zM9.9 22.5a2.4 2.4 0 1 0 4.7 0a2.4 2.4 0 1 0 -4.7 0zM7 30a2 2 0 1 0 4.1 0a2 2 0 1 0 -4.1 0zM3.3 38.5a1.7 1.7 0 1 0 3.4 0a1.7 1.7 0 1 0 -3.4 0zM-0.2 46.5a1.2 1.2 0 1 0 2.5 0a1.2 1.2 0 1 0 -2.5 0zM10.1 21.5L7.1 29.2L10.9 30.8L14.5 23.5zM7.2 29.1L3.4 37.8L6.6 39.2L10.8 30.9zM3.5 37.7L-0.1 45.9L2.1 47.1L6.5 39.3zM21.3 22.3a2.2 2.2 0 1 0 4.3 0a2.2 2.2 0 1 0 -4.3 0zM31.5 19.5a2.5 2.5 0 1 0 5 0a2.5 2.5 0 1 0 -5 0zM43.2 16a2.3 2.3 0 1 0 4.6 0a2.3 2.3 0 1 0 -4.6 0zM24.1 24.4L34.7 21.9L33.3 17.1L22.9 20.2zM34.7 21.9L46.2 18.2L44.8 13.8L33.3 17.1zM42.4 18a1.6 1.6 0 1 0 3.1 0a1.6 1.6 0 1 0 -3.1 0zM33.6 25a1.4 1.4 0 1 0 2.7 0a1.4 1.4 0 1 0 -2.7 0zM24.4 31a1.6 1.6 0 1 0 3.1 0a1.6 1.6 0 1 0 -3.1 0zM43 16.8L34.2 23.9L35.8 26.1L45 19.2zM34.2 23.9L25.1 29.7L26.9 32.3L35.8 26.1zM51.7 26.8a1.8 1.8 0 1 0 3.5 0a1.8 1.8 0 1 0 -3.5 0zM40 30a2 2 0 1 0 3.9 0a2 2 0 1 0 -3.9 0zM27.8 34.5a2.2 2.2 0 1 0 4.4 0a2.2 2.2 0 1 0 -4.4 0zM17.4 39.5a2.6 2.6 0 1 0 5.1 0a2.6 2.6 0 1 0 -5.1 0zM12.3 42.3a2.2 2.2 0 1 0 4.3 0a2.2 2.2 0 1 0 -4.3 0zM53 25.1L41.5 28.1L42.5 31.9L54 28.5zM41.3 28.2L29.2 32.4L30.8 36.6L42.7 31.8zM29 32.5L18.9 37.2L21.1 41.8L31 36.5zM18.8 37.2L13.5 40.4L15.5 44.2L21.2 41.8zM44.9 29.5a1.6 1.6 0 1 0 3.3 0a1.6 1.6 0 1 0 -3.3 0zM41.3 34.5a1.2 1.2 0 1 0 2.3 0a1.2 1.2 0 1 0 -2.3 0zM45.2 28.5L41.6 33.8L43.4 35.2L47.8 30.5zM30.4 42a2.6 2.6 0 1 0 5.2 0a2.6 2.6 0 1 0 -5.2 0zM42.4 41a2.6 2.6 0 1 0 5.2 0a2.6 2.6 0 1 0 -5.2 0zM51.1 41a2.9 2.9 0 1 0 5.7 0a2.9 2.9 0 1 0 -5.7 0zM33.2 44.6L45.2 43.6L44.8 38.4L32.8 39.4zM45 43.6L54 43.9L54 38.1L45 38.4zM50.9 41a3.1 3.1 0 1 0 6.2 0a3.1 3.1 0 1 0 -6.2 0zM52.6 60a2.9 2.9 0 1 0 5.7 0a2.9 2.9 0 1 0 -5.7 0zM54.4 85a2.6 2.6 0 1 0 5.2 0a2.6 2.6 0 1 0 -5.2 0zM50.9 41.2L52.7 60.2L58.3 59.8L57.1 40.8zM52.6 60.2L54.4 85.2L59.6 84.8L58.4 59.8zM24.2 44.5a1.8 1.8 0 1 0 3.6 0a1.8 1.8 0 1 0 -3.6 0zM18.1 56a1.9 1.9 0 1 0 3.8 0a1.9 1.9 0 1 0 -3.8 0zM13.8 68a2.2 2.2 0 1 0 4.3 0a2.2 2.2 0 1 0 -4.3 0zM11.9 75a3.1 3.1 0 1 0 6.2 0a3.1 3.1 0 1 0 -6.2 0zM24.4 43.7L18.3 55.1L21.7 56.9L27.6 45.3zM18.2 55.4L14 67.3L18 68.7L21.8 56.6zM13.9 67.7L11.9 74.6L18.1 75.4L18.1 68.3zM11.7 75a3.3 3.3 0 1 0 6.6 0a3.3 3.3 0 1 0 -6.6 0zM21.4 78a3.6 3.6 0 1 0 7.1 0a3.6 3.6 0 1 0 -7.1 0zM39.9 79.5a3.1 3.1 0 1 0 6.2 0a3.1 3.1 0 1 0 -6.2 0zM49.1 83a2.9 2.9 0 1 0 5.7 0a2.9 2.9 0 1 0 -5.7 0zM54.4 85.5a2.6 2.6 0 1 0 5.2 0a2.6 2.6 0 1 0 -5.2 0zM14 78.2L24 81.4L26 74.6L16 71.8zM24.7 81.5L42.7 82.6L43.3 76.4L25.3 74.5zM41.9 82.4L51 85.7L53 80.3L44.1 76.6zM50.7 85.6L55.8 87.8L58.2 83.2L53.3 80.4z" fill="#a048a8" filter="url(#b05)"/>
<path d="M24.2 1.5a0.8 0.8 0 1 0 1.7 0a0.8 0.8 0 1 0 -1.7 0zM27.7 3a1.3 1.3 0 1 0 2.7 0a1.3 1.3 0 1 0 -2.7 0zM32 6.5a1.5 1.5 0 1 0 3 0a1.5 1.5 0 1 0 -3 0zM32 10a1 1 0 1 0 2 0a1 1 0 1 0 -2 0zM30.8 13.5a0.4 0.4 0 1 0 0.8 0a0.4 0.4 0 1 0 -0.8 0zM24.7 2.3L28.5 4.3L29.5 1.7L25.3 0.7zM28.2 4.1L32.6 7.7L34.4 5.3L29.8 1.9zM32 6.3L32 9.9L34 10.1L35 6.7zM32.1 9.5L30.8 13.3L31.6 13.7L33.9 10.5zM11 22.5a1.3 1.3 0 1 0 2.7 0a1.3 1.3 0 1 0 -2.7 0zM7.9 30a1.1 1.1 0 1 0 2.2 0a1.1 1.1 0 1 0 -2.2 0zM4.2 38.5a0.8 0.8 0 1 0 1.6 0a0.8 0.8 0 1 0 -1.6 0zM0.6 46.5a0.4 0.4 0 1 0 0.8 0a0.4 0.4 0 1 0 -0.8 0zM11.1 22L8 29.6L10 30.4L13.5 23zM8 29.5L4.3 38.2L5.7 38.8L10 30.5zM4.3 38.1L0.6 46.3L1.4 46.7L5.7 38.9zM22.3 22.3a1.2 1.2 0 1 0 2.4 0a1.2 1.2 0 1 0 -2.4 0zM32.5 19.5a1.5 1.5 0 1 0 3 0a1.5 1.5 0 1 0 -3 0zM44.2 16a1.3 1.3 0 1 0 2.6 0a1.3 1.3 0 1 0 -2.6 0zM23.8 23.4L34.4 20.9L33.6 18.1L23.2 21.2zM34.4 20.9L45.9 17.2L45.1 14.8L33.6 18.1zM43.3 18a0.7 0.7 0 1 0 1.3 0a0.7 0.7 0 1 0 -1.3 0zM34.5 25a0.5 0.5 0 1 0 1 0a0.5 0.5 0 1 0 -1 0zM25.3 31a0.7 0.7 0 1 0 1.3 0a0.7 0.7 0 1 0 -1.3 0zM43.6 17.5L34.7 24.6L35.3 25.4L44.4 18.5zM34.7 24.6L25.6 30.4L26.4 31.6L35.3 25.4zM52.7 26.8a0.8 0.8 0 1 0 1.7 0a0.8 0.8 0 1 0 -1.7 0zM41 30a1 1 0 1 0 2 0a1 1 0 1 0 -2 0zM28.8 34.5a1.2 1.2 0 1 0 2.4 0a1.2 1.2 0 1 0 -2.4 0zM18.5 39.5a1.5 1.5 0 1 0 3 0a1.5 1.5 0 1 0 -3 0zM13.3 42.3a1.2 1.2 0 1 0 2.4 0a1.2 1.2 0 1 0 -2.4 0zM53.3 26L41.7 29L42.3 31L53.7 27.6zM41.6 29.1L29.6 33.4L30.4 35.6L42.4 30.9zM29.5 33.4L19.3 38.1L20.7 40.9L30.5 35.6zM19.3 38.2L14 41.3L15 43.3L20.7 40.8zM45.8 29.5a0.7 0.7 0 1 0 1.5 0a0.7 0.7 0 1 0 -1.5 0zM42.2 34.5a0.3 0.3 0 1 0 0.7 0a0.3 0.3 0 1 0 -0.7 0zM45.9 29L42.2 34.3L42.8 34.7L47.1 30zM31.4 42a1.6 1.6 0 1 0 3.1 0a1.6 1.6 0 1 0 -3.1 0zM43.4 41a1.6 1.6 0 1 0 3.1 0a1.6 1.6 0 1 0 -3.1 0zM52.2 41a1.8 1.8 0 1 0 3.5 0a1.8 1.8 0 1 0 -3.5 0zM33.1 43.6L45.1 42.6L44.9 39.4L32.9 40.4zM45 42.6L54 42.8L54 39.2L45 39.4zM52 41a1.9 1.9 0 1 0 3.9 0a1.9 1.9 0 1 0 -3.9 0zM53.7 60a1.8 1.8 0 1 0 3.5 0a1.8 1.8 0 1 0 -3.5 0zM55.4 85a1.6 1.6 0 1 0 3.1 0a1.6 1.6 0 1 0 -3.1 0zM52.1 41.2L53.8 60.1L57.2 59.9L55.9 40.8zM53.7 60.1L55.4 85.1L58.6 84.9L57.3 59.9zM25.1 44.5a0.9 0.9 0 1 0 1.7 0a0.9 0.9 0 1 0 -1.7 0zM19 56a1 1 0 1 0 1.9 0a1 1 0 1 0 -1.9 0zM14.8 68a1.2 1.2 0 1 0 2.3 0a1.2 1.2 0 1 0 -2.3 0zM13.1 75a1.9 1.9 0 1 0 3.9 0a1.9 1.9 0 1 0 -3.9 0zM25.2 44.1L19.1 55.5L20.9 56.5L26.8 44.9zM19.1 55.7L14.9 67.6L17.1 68.4L20.9 56.3zM14.8 67.8L13.1 74.7L16.9 75.3L17.2 68.2zM12.9 75a2.1 2.1 0 1 0 4.3 0a2.1 2.1 0 1 0 -4.3 0zM22.7 78a2.3 2.3 0 1 0 4.7 0a2.3 2.3 0 1 0 -4.7 0zM41 79.5a1.9 1.9 0 1 0 3.9 0a1.9 1.9 0 1 0 -3.9 0zM50.2 83a1.8 1.8 0 1 0 3.5 0a1.8 1.8 0 1 0 -3.5 0zM55.4 85.5a1.6 1.6 0 1 0 3.1 0a1.6 1.6 0 1 0 -3.1 0zM14.4 77.1L24.3 80.2L25.7 75.8L15.6 72.9zM24.8 80.3L42.8 81.4L43.2 77.6L25.2 75.7zM42.3 81.3L51.4 84.6L52.6 81.4L43.7 77.7zM51.2 84.6L56.3 86.9L57.7 84.1L52.8 81.4z" fill="#2585e0" filter="url(#b05)"/>
<path d="M38.3 42a2.7 2.7 0 1 0 5.4 0a2.7 2.7 0 1 0 -5.4 0zM28.1 50a2.8 2.8 0 1 0 5.7 0a2.8 2.8 0 1 0 -5.7 0zM20.7 58a1.8 1.8 0 1 0 3.6 0a1.8 1.8 0 1 0 -3.6 0zM39.3 39.9L29.2 47.8L32.8 52.2L42.7 44.1zM29 47.9L21.3 56.7L23.7 59.3L33 52.1zM22.2 58.5a1.8 1.8 0 1 0 3.6 0a1.8 1.8 0 1 0 -3.6 0zM31.8 59a2.2 2.2 0 1 0 4.5 0a2.2 2.2 0 1 0 -4.5 0zM41.7 60a1.8 1.8 0 1 0 3.6 0a1.8 1.8 0 1 0 -3.6 0zM23.9 60.3L33.9 61.2L34.1 56.8L24.1 56.7zM33.8 61.2L43.3 61.8L43.7 58.2L34.2 56.8zM41.2 62a1.8 1.8 0 1 0 3.6 0a1.8 1.8 0 1 0 -3.6 0zM29.4 68a2.5 2.5 0 1 0 5.1 0a2.5 2.5 0 1 0 -5.1 0zM18.6 72.5a2.4 2.4 0 1 0 4.8 0a2.4 2.4 0 1 0 -4.8 0zM42.1 60.4L30.8 65.8L33.2 70.2L43.9 63.6zM31 65.6L20.1 70.3L21.9 74.7L33 70.4zM21.6 74a2.4 2.4 0 1 0 4.8 0a2.4 2.4 0 1 0 -4.8 0zM34.2 72a1.8 1.8 0 1 0 3.6 0a1.8 1.8 0 1 0 -3.6 0zM44 69.5a1.5 1.5 0 1 0 3 0a1.5 1.5 0 1 0 -3 0zM24.4 76.4L36.3 73.8L35.7 70.2L23.6 71.6zM36.5 73.7L45.9 71L45.1 68L35.5 70.3z" fill="#a048a8" filter="url(#b1)" opacity="0.8"/>
<path d="M39.7 42a1.3 1.3 0 1 0 2.6 0a1.3 1.3 0 1 0 -2.6 0zM29.6 50a1.4 1.4 0 1 0 2.7 0a1.4 1.4 0 1 0 -2.7 0zM21.7 58a0.8 0.8 0 1 0 1.6 0a0.8 0.8 0 1 0 -1.6 0zM40.2 41L30.2 48.9L31.8 51.1L41.8 43zM30.1 49L22 57.4L23 58.6L31.9 51zM42.2 62a0.8 0.8 0 1 0 1.6 0a0.8 0.8 0 1 0 -1.6 0zM30.8 68a1.2 1.2 0 1 0 2.4 0a1.2 1.2 0 1 0 -2.4 0zM19.9 72.5a1.1 1.1 0 1 0 2.2 0a1.1 1.1 0 1 0 -2.2 0zM42.6 61.3L31.4 66.9L32.6 69.1L43.4 62.7zM31.5 66.9L20.6 71.5L21.4 73.5L32.5 69.1z" fill="#ff70c8" filter="url(#b1)" opacity="0.95" transform="translate(2 1)"/>
<ellipse cx="24" cy="62" rx="5" ry="7" fill="#7cd67c" opacity="0.55" filter="url(#b2)"/>
</g>

</g>
</svg>
<svg x="533" y="20" width="60" height="86" viewBox="0 0 60 86" overflow="hidden">
<g filter="url(#nH)">
<rect width="60" height="86" fill="url(#gH)"/>

<g transform="scale(1.0000 0.9885)">
<g transform="translate(0 -3.2)">
<path d="M23.7 1.5a1.3 1.3 0 1 0 2.6 0a1.3 1.3 0 1 0 -2.6 0zM27 3a2 2 0 1 0 4 0a2 2 0 1 0 -4 0zM31.3 6.5a2.2 2.2 0 1 0 4.4 0a2.2 2.2 0 1 0 -4.4 0zM31.5 10a1.5 1.5 0 1 0 3.1 0a1.5 1.5 0 1 0 -3.1 0zM30.5 13.5a0.7 0.7 0 1 0 1.5 0a0.7 0.7 0 1 0 -1.5 0zM24.5 2.7L28.3 4.9L29.7 1.1L25.5 0.3zM27.8 4.6L32.1 8.2L34.9 4.8L30.2 1.4zM31.3 6.2L31.5 9.8L34.5 10.2L35.7 6.8zM31.6 9.3L30.5 13.2L31.9 13.8L34.4 10.7zM10.3 22.5a2 2 0 1 0 4 0a2 2 0 1 0 -4 0zM7.4 30a1.6 1.6 0 1 0 3.3 0a1.6 1.6 0 1 0 -3.3 0zM3.7 38.5a1.3 1.3 0 1 0 2.6 0a1.3 1.3 0 1 0 -2.6 0zM0.3 46.5a0.7 0.7 0 1 0 1.5 0a0.7 0.7 0 1 0 -1.5 0zM10.5 21.7L7.5 29.3L10.5 30.7L14.1 23.3zM7.5 29.3L3.8 38L6.2 39L10.5 30.7zM3.9 37.9L0.3 46.2L1.7 46.8L6.1 39.1zM21.7 22.3a1.8 1.8 0 1 0 3.5 0a1.8 1.8 0 1 0 -3.5 0zM31.8 19.5a2.2 2.2 0 1 0 4.3 0a2.2 2.2 0 1 0 -4.3 0zM43.6 16a1.9 1.9 0 1 0 3.8 0a1.9 1.9 0 1 0 -3.8 0zM24 24L34.6 21.6L33.4 17.4L23 20.6zM34.6 21.6L46.1 17.8L44.9 14.2L33.4 17.4zM42.9 18a1.1 1.1 0 1 0 2.2 0a1.1 1.1 0 1 0 -2.2 0zM34.1 25a0.9 0.9 0 1 0 1.7 0a0.9 0.9 0 1 0 -1.7 0zM24.9 31a1.1 1.1 0 1 0 2.2 0a1.1 1.1 0 1 0 -2.2 0zM43.3 17.1L34.5 24.3L35.5 25.7L44.7 18.9zM34.5 24.3L25.4 30.1L26.6 31.9L35.5 25.7zM52.2 26.8a1.3 1.3 0 1 0 2.6 0a1.3 1.3 0 1 0 -2.6 0zM40.5 30a1.5 1.5 0 1 0 3.1 0a1.5 1.5 0 1 0 -3.1 0zM28.2 34.5a1.8 1.8 0 1 0 3.6 0a1.8 1.8 0 1 0 -3.6 0zM17.8 39.5a2.2 2.2 0 1 0 4.4 0a2.2 2.2 0 1 0 -4.4 0zM12.7 42.3a1.8 1.8 0 1 0 3.5 0a1.8 1.8 0 1 0 -3.5 0zM53.1 25.5L41.6 28.5L42.4 31.5L53.9 28.1zM41.5 28.6L29.4 32.8L30.6 36.2L42.5 31.4zM29.2 32.9L19 37.5L21 41.5L30.8 36.1zM19 37.5L13.7 40.7L15.3 43.9L21 41.5zM45.3 29.5a1.2 1.2 0 1 0 2.4 0a1.2 1.2 0 1 0 -2.4 0zM41.9 34.5a0.6 0.6 0 1 0 1.3 0a0.6 0.6 0 1 0 -1.3 0zM45.6 28.8L42 34.1L43 34.9L47.4 30.2z" fill="#161616" filter="url(#b05)"/>
<path d="M11.7 22.5a0.6 0.6 0 1 0 1.3 0a0.6 0.6 0 1 0 -1.3 0zM8.5 30a0.5 0.5 0 1 0 1 0a0.5 0.5 0 1 0 -1 0zM4.6 38.5a0.4 0.4 0 1 0 0.8 0a0.4 0.4 0 1 0 -0.8 0zM0.8 46.5a0.2 0.2 0 1 0 0.4 0a0.2 0.2 0 1 0 -0.4 0zM11.7 22.2L8.5 29.8L9.5 30.2L12.9 22.8zM8.5 29.8L4.7 38.3L5.3 38.7L9.5 30.2zM4.7 38.3L0.8 46.4L1.2 46.6L5.3 38.7zM23 22.3a0.5 0.5 0 1 0 1.1 0a0.5 0.5 0 1 0 -1.1 0zM33.3 19.5a0.7 0.7 0 1 0 1.4 0a0.7 0.7 0 1 0 -1.4 0zM44.9 16a0.6 0.6 0 1 0 1.2 0a0.6 0.6 0 1 0 -1.2 0zM23.6 22.8L34.2 20.2L33.8 18.8L23.4 21.8zM34.2 20.2L45.7 16.6L45.3 15.4L33.8 18.8zM53.1 26.8a0.4 0.4 0 1 0 0.8 0a0.4 0.4 0 1 0 -0.8 0zM41.5 30a0.5 0.5 0 1 0 0.9 0a0.5 0.5 0 1 0 -0.9 0zM29.4 34.5a0.6 0.6 0 1 0 1.1 0a0.6 0.6 0 1 0 -1.1 0zM19.3 39.5a0.7 0.7 0 1 0 1.4 0a0.7 0.7 0 1 0 -1.4 0zM14 42.3a0.5 0.5 0 1 0 1.1 0a0.5 0.5 0 1 0 -1.1 0zM53.4 26.4L41.9 29.5L42.1 30.5L53.6 27.2zM41.8 29.6L29.8 34L30.2 35L42.2 30.4zM29.7 34L19.7 38.9L20.3 40.1L30.3 35zM19.7 38.9L14.3 41.8L14.7 42.8L20.3 40.1z" fill="#ececec" filter="url(#b05)" transform="translate(0.5 0.6)"/>
</g>
<path d="M30.5 38.6L40.9 40.4L39.2 47.3L32.2 59.5L37.4 71.7L53 77L56.6 83.9L37.4 80.4L16.5 75.2L13.9 63L21.8 49.1z" fill="#e8e8e8" stroke="#e8e8e8" stroke-width="1.6" stroke-linejoin="round" filter="url(#b05)" opacity="0.75" transform="translate(0.6 0.8)"/>
<path d="M41 42L51 42.5L53.5 77L38 71.5L33 59.5L39.5 47.5z" fill="#9e9e9e" filter="url(#b1)"/>
<path d="M30.5 38.6L40.9 40.4L39.2 47.3L32.2 59.5L37.4 71.7L53 77L56.6 83.9L37.4 80.4L16.5 75.2L13.9 63L21.8 49.1z" fill="#0c0c0c" filter="url(#b05)"/>
<path d="M30.5 39.6L52 40.6" stroke="#0c0c0c" stroke-width="2.6" fill="none" stroke-linecap="round" filter="url(#b05)"/>
<path d="M52.6 40.5L55.8 83" stroke="#0c0c0c" stroke-width="2" fill="none" stroke-linecap="round" filter="url(#b05)"/>
<path d="M50.6 43L53.4 78" stroke="#f4f4f4" stroke-width="1.4" fill="none" filter="url(#b05)"/>
<g fill="#f6f6f6" filter="url(#b05)"><ellipse cx="34.5" cy="49" rx="2.4" ry="5.2" transform="rotate(-8 34.5 49)"/><ellipse cx="25" cy="63" rx="5" ry="3"  transform="rotate(-20 25 63)"/><ellipse cx="27.5" cy="70" rx="3.6" ry="1.4"/><ellipse cx="31" cy="43.5" rx="2" ry="1.4"/></g>
</g>

</g>
</svg>
<svg x="533" y="146.5" width="59.5" height="87" viewBox="0 0 59.5 87" overflow="hidden">
<g filter="url(#nS)">
<rect width="59.5" height="87" fill="#dadada"/>

<g transform="scale(0.9917 1.0000)">
<path d="M33 42L54 41L57 85L35 79L15 75L20 56L26 44.5z" fill="#959595" filter="url(#b05)"/>
<path d="M45 43L53 42.5L55.5 82L41 78L46 60z" fill="#bdbdbd" filter="url(#b1)"/>
<path d="M22.9 1.5a2.2 2.2 0 1 0 4.3 0a2.2 2.2 0 1 0 -4.3 0zM26 3a3 3 0 1 0 6 0a3 3 0 1 0 -6 0zM30.2 6.5a3.3 3.3 0 1 0 6.5 0a3.3 3.3 0 1 0 -6.5 0zM30.6 10a2.4 2.4 0 1 0 4.9 0a2.4 2.4 0 1 0 -4.9 0zM29.8 13.5a1.4 1.4 0 1 0 2.8 0a1.4 1.4 0 1 0 -2.8 0zM24.2 3.5L28 5.8L30 0.2L25.8 -0.5zM27.2 5.4L31.5 9.1L35.5 3.9L30.8 0.6zM30.3 6L30.6 9.7L35.4 10.3L36.7 7zM30.8 8.9L29.9 12.8L32.5 14.2L35.2 11.1zM9.3 22.5a3 3 0 1 0 6 0a3 3 0 1 0 -6 0zM6.5 30a2.5 2.5 0 1 0 5.1 0a2.5 2.5 0 1 0 -5.1 0zM2.9 38.5a2.1 2.1 0 1 0 4.2 0a2.1 2.1 0 1 0 -4.2 0zM-0.4 46.5a1.4 1.4 0 1 0 2.8 0a1.4 1.4 0 1 0 -2.8 0zM9.6 21.3L6.7 29L11.3 31L15 23.7zM6.7 28.9L3.1 37.6L6.9 39.4L11.3 31.1zM3.1 37.6L-0.3 45.9L2.3 47.1L6.9 39.4zM20.8 22.3a2.7 2.7 0 1 0 5.4 0a2.7 2.7 0 1 0 -5.4 0zM30.8 19.5a3.2 3.2 0 1 0 6.4 0a3.2 3.2 0 1 0 -6.4 0zM42.6 16a2.9 2.9 0 1 0 5.8 0a2.9 2.9 0 1 0 -5.8 0zM24.2 24.9L34.8 22.6L33.2 16.4L22.8 19.7zM34.9 22.6L46.3 18.8L44.7 13.2L33.1 16.4zM42.1 18a1.9 1.9 0 1 0 3.7 0a1.9 1.9 0 1 0 -3.7 0zM33.4 25a1.6 1.6 0 1 0 3.2 0a1.6 1.6 0 1 0 -3.2 0zM24.1 31a1.9 1.9 0 1 0 3.7 0a1.9 1.9 0 1 0 -3.7 0zM42.9 16.5L34 23.7L36 26.3L45.1 19.5zM34.1 23.7L25 29.4L27 32.6L35.9 26.3zM51.4 26.8a2.2 2.2 0 1 0 4.3 0a2.2 2.2 0 1 0 -4.3 0zM39.6 30a2.4 2.4 0 1 0 4.9 0a2.4 2.4 0 1 0 -4.9 0zM27.2 34.5a2.8 2.8 0 1 0 5.5 0a2.8 2.8 0 1 0 -5.5 0zM16.7 39.5a3.3 3.3 0 1 0 6.5 0a3.3 3.3 0 1 0 -6.5 0zM11.8 42.3a2.7 2.7 0 1 0 5.4 0a2.7 2.7 0 1 0 -5.4 0zM52.9 24.7L41.3 27.7L42.7 32.3L54.1 28.9zM41.1 27.7L29 31.9L31 37.1L42.9 32.3zM28.8 32L18.5 36.6L21.5 42.4L31.2 37zM18.5 36.6L13.3 39.9L15.7 44.7L21.5 42.4zM44.5 29.5a2 2 0 1 0 4 0a2 2 0 1 0 -4 0zM41.2 34.5a1.3 1.3 0 1 0 2.6 0a1.3 1.3 0 1 0 -2.6 0zM45 28.3L41.5 33.7L43.5 35.3L48 30.7zM29.6 42a3.4 3.4 0 1 0 6.7 0a3.4 3.4 0 1 0 -6.7 0zM41.6 41a3.4 3.4 0 1 0 6.7 0a3.4 3.4 0 1 0 -6.7 0zM50.3 41a3.7 3.7 0 1 0 7.4 0a3.7 3.7 0 1 0 -7.4 0zM33.3 45.3L45.3 44.3L44.7 37.7L32.7 38.7zM45 44.4L54 44.7L54 37.3L45 37.6zM50 41a4 4 0 1 0 8 0a4 4 0 1 0 -8 0zM51.8 60a3.7 3.7 0 1 0 7.4 0a3.7 3.7 0 1 0 -7.4 0zM53.6 85a3.4 3.4 0 1 0 6.7 0a3.4 3.4 0 1 0 -6.7 0zM50 41.3L51.8 60.3L59.2 59.7L58 40.7zM51.8 60.2L53.7 85.2L60.3 84.8L59.2 59.8zM23.8 44.5a2.2 2.2 0 1 0 4.4 0a2.2 2.2 0 1 0 -4.4 0zM17.6 56a2.4 2.4 0 1 0 4.8 0a2.4 2.4 0 1 0 -4.8 0zM13.3 68a2.7 2.7 0 1 0 5.4 0a2.7 2.7 0 1 0 -5.4 0zM11 75a4 4 0 1 0 8 0a4 4 0 1 0 -8 0zM24.1 43.5L17.9 54.9L22.1 57.1L27.9 45.5zM17.7 55.2L13.4 67.1L18.6 68.9L22.3 56.8zM13.3 67.6L11 74.4L19 75.6L18.7 68.4zM10.7 75a4.3 4.3 0 1 0 8.7 0a4.3 4.3 0 1 0 -8.7 0zM20.4 78a4.7 4.7 0 1 0 9.3 0a4.7 4.7 0 1 0 -9.3 0zM39 79.5a4 4 0 1 0 8 0a4 4 0 1 0 -8 0zM48.3 83a3.7 3.7 0 1 0 7.4 0a3.7 3.7 0 1 0 -7.4 0zM53.6 85.5a3.4 3.4 0 1 0 6.7 0a3.4 3.4 0 1 0 -6.7 0zM13.8 79.1L23.7 82.5L26.3 73.5L16.2 70.9zM24.6 82.6L42.7 83.5L43.3 75.5L25.4 73.4zM41.6 83.2L50.7 86.4L53.3 79.6L44.4 75.8zM50.4 86.3L55.5 88.5L58.5 82.5L53.6 79.7z" fill="#2c2c2c" filter="url(#b05)"/>
<path d="M23.9 1.5a1.1 1.1 0 1 0 2.2 0a1.1 1.1 0 1 0 -2.2 0zM27.2 3a1.8 1.8 0 1 0 3.6 0a1.8 1.8 0 1 0 -3.6 0zM31.5 6.5a2 2 0 1 0 4 0a2 2 0 1 0 -4 0zM31.7 10a1.3 1.3 0 1 0 2.7 0a1.3 1.3 0 1 0 -2.7 0zM30.7 13.5a0.5 0.5 0 1 0 1.1 0a0.5 0.5 0 1 0 -1.1 0zM24.6 2.5L28.4 4.7L29.6 1.3L25.4 0.5zM27.9 4.4L32.3 8.1L34.7 4.9L30.1 1.6zM31.5 6.2L31.7 9.8L34.3 10.2L35.5 6.8zM31.8 9.4L30.7 13.3L31.7 13.7L34.2 10.6zM10.5 22.5a1.8 1.8 0 1 0 3.6 0a1.8 1.8 0 1 0 -3.6 0zM7.6 30a1.4 1.4 0 1 0 2.9 0a1.4 1.4 0 1 0 -2.9 0zM3.9 38.5a1.1 1.1 0 1 0 2.2 0a1.1 1.1 0 1 0 -2.2 0zM0.5 46.5a0.5 0.5 0 1 0 1.1 0a0.5 0.5 0 1 0 -1.1 0zM10.7 21.8L7.7 29.4L10.3 30.6L13.9 23.2zM7.7 29.4L4 38L6 39L10.3 30.6zM4 38L0.5 46.3L1.5 46.7L6 39zM21.9 22.3a1.6 1.6 0 1 0 3.1 0a1.6 1.6 0 1 0 -3.1 0zM32 19.5a2 2 0 1 0 3.9 0a2 2 0 1 0 -3.9 0zM43.8 16a1.7 1.7 0 1 0 3.4 0a1.7 1.7 0 1 0 -3.4 0zM23.9 23.8L34.5 21.4L33.5 17.6L23.1 20.8zM34.6 21.4L46 17.6L45 14.4L33.4 17.6zM43.1 18a0.9 0.9 0 1 0 1.8 0a0.9 0.9 0 1 0 -1.8 0zM34.3 25a0.7 0.7 0 1 0 1.3 0a0.7 0.7 0 1 0 -1.3 0zM25.1 31a0.9 0.9 0 1 0 1.8 0a0.9 0.9 0 1 0 -1.8 0zM43.4 17.3L34.6 24.5L35.4 25.5L44.6 18.7zM34.6 24.4L25.5 30.3L26.5 31.7L35.4 25.6zM52.4 26.8a1.1 1.1 0 1 0 2.2 0a1.1 1.1 0 1 0 -2.2 0zM40.7 30a1.3 1.3 0 1 0 2.7 0a1.3 1.3 0 1 0 -2.7 0zM28.4 34.5a1.6 1.6 0 1 0 3.2 0a1.6 1.6 0 1 0 -3.2 0zM18 39.5a2 2 0 1 0 4 0a2 2 0 1 0 -4 0zM12.9 42.3a1.6 1.6 0 1 0 3.1 0a1.6 1.6 0 1 0 -3.1 0zM53.2 25.7L41.6 28.7L42.4 31.3L53.8 27.9zM41.5 28.7L29.4 33L30.6 36L42.5 31.3zM29.3 33.1L19.1 37.7L20.9 41.3L30.7 35.9zM19.1 37.7L13.8 40.9L15.2 43.7L20.9 41.3zM45.5 29.5a1 1 0 1 0 2 0a1 1 0 1 0 -2 0zM42.1 34.5a0.4 0.4 0 1 0 0.9 0a0.4 0.4 0 1 0 -0.9 0zM45.7 28.9L42.2 34.2L42.8 34.8L47.3 30.1zM30.9 42a2.1 2.1 0 1 0 4.2 0a2.1 2.1 0 1 0 -4.2 0zM42.9 41a2.1 2.1 0 1 0 4.2 0a2.1 2.1 0 1 0 -4.2 0zM51.7 41a2.3 2.3 0 1 0 4.7 0a2.3 2.3 0 1 0 -4.7 0zM33.2 44.1L45.2 43.1L44.8 38.9L32.8 39.9zM45 43.1L54 43.3L54 38.7L45 38.9zM51.4 41a2.6 2.6 0 1 0 5.2 0a2.6 2.6 0 1 0 -5.2 0zM53.2 60a2.3 2.3 0 1 0 4.7 0a2.3 2.3 0 1 0 -4.7 0zM54.9 85a2.1 2.1 0 1 0 4.2 0a2.1 2.1 0 1 0 -4.2 0zM51.4 41.2L53.2 60.2L57.8 59.8L56.6 40.8zM53.2 60.1L54.9 85.1L59.1 84.9L57.8 59.9zM24.9 44.5a1.1 1.1 0 1 0 2.3 0a1.1 1.1 0 1 0 -2.3 0zM18.7 56a1.3 1.3 0 1 0 2.6 0a1.3 1.3 0 1 0 -2.6 0zM14.4 68a1.6 1.6 0 1 0 3.1 0a1.6 1.6 0 1 0 -3.1 0zM12.4 75a2.6 2.6 0 1 0 5.2 0a2.6 2.6 0 1 0 -5.2 0zM25 44L18.8 55.4L21.2 56.6L27 45zM18.8 55.6L14.5 67.5L17.5 68.5L21.2 56.4zM14.5 67.8L12.4 74.6L17.6 75.4L17.5 68.2zM12.1 75a2.9 2.9 0 1 0 5.7 0a2.9 2.9 0 1 0 -5.7 0zM21.9 78a3.1 3.1 0 1 0 6.2 0a3.1 3.1 0 1 0 -6.2 0zM40.4 79.5a2.6 2.6 0 1 0 5.2 0a2.6 2.6 0 1 0 -5.2 0zM49.7 83a2.3 2.3 0 1 0 4.7 0a2.3 2.3 0 1 0 -4.7 0zM54.9 85.5a2.1 2.1 0 1 0 4.2 0a2.1 2.1 0 1 0 -4.2 0zM14.2 77.7L24.1 81L25.9 75L15.8 72.3zM24.7 81.1L42.8 82.1L43.2 76.9L25.3 74.9zM42.1 81.9L51.2 85.2L52.8 80.8L43.9 77.1zM51 85.1L56.1 87.4L57.9 83.6L53 80.9z" fill="#8c8c8c" filter="url(#b05)"/>
<path d="M39.6 42a1.4 1.4 0 1 0 2.8 0a1.4 1.4 0 1 0 -2.8 0zM29.5 50a1.5 1.5 0 1 0 3 0a1.5 1.5 0 1 0 -3 0zM21.6 58a0.9 0.9 0 1 0 1.8 0a0.9 0.9 0 1 0 -1.8 0zM40.1 40.9L30.1 48.8L31.9 51.2L41.9 43.1zM30 48.9L21.9 57.4L23.1 58.6L32 51.1zM23.1 58.5a0.9 0.9 0 1 0 1.8 0a0.9 0.9 0 1 0 -1.8 0zM32.9 59a1.1 1.1 0 1 0 2.3 0a1.1 1.1 0 1 0 -2.3 0zM42.6 60a0.9 0.9 0 1 0 1.8 0a0.9 0.9 0 1 0 -1.8 0zM24 59.4L33.9 60.1L34.1 57.9L24 57.6zM33.9 60.1L43.4 60.9L43.6 59.1L34.1 57.9zM42.1 62a0.9 0.9 0 1 0 1.8 0a0.9 0.9 0 1 0 -1.8 0zM30.7 68a1.3 1.3 0 1 0 2.6 0a1.3 1.3 0 1 0 -2.6 0zM19.8 72.5a1.2 1.2 0 1 0 2.4 0a1.2 1.2 0 1 0 -2.4 0zM42.6 61.2L31.4 66.8L32.6 69.2L43.4 62.8zM31.5 66.8L20.5 71.4L21.5 73.6L32.5 69.2zM22.8 74a1.2 1.2 0 1 0 2.4 0a1.2 1.2 0 1 0 -2.4 0zM35.1 72a0.9 0.9 0 1 0 1.8 0a0.9 0.9 0 1 0 -1.8 0zM44.8 69.5a0.7 0.7 0 1 0 1.4 0a0.7 0.7 0 1 0 -1.4 0zM24.2 75.2L36.1 72.9L35.9 71.1L23.8 72.8zM36.2 72.8L45.7 70.2L45.3 68.8L35.8 71.2z" fill="#4a4a4a" filter="url(#b05)"/>
</g>

</g>
</svg>
<svg x="533.5" y="273" width="60" height="88" viewBox="0 0 60 88" overflow="hidden">
<g filter="url(#nI)">
<rect width="60" height="88" fill="#838383"/>

<g transform="scale(1.0000 1.0115)">
<path d="M23.4 1.5a1.7 1.7 0 1 0 3.3 0a1.7 1.7 0 1 0 -3.3 0zM26.5 3a2.5 2.5 0 1 0 5 0a2.5 2.5 0 1 0 -5 0zM30.7 6.5a2.8 2.8 0 1 0 5.5 0a2.8 2.8 0 1 0 -5.5 0zM31.1 10a1.9 1.9 0 1 0 3.9 0a1.9 1.9 0 1 0 -3.9 0zM30.3 13.5a0.9 0.9 0 1 0 1.8 0a0.9 0.9 0 1 0 -1.8 0zM24.4 3L28.1 5.3L29.9 0.7L25.6 0zM27.5 5L31.8 8.7L35.2 4.3L30.5 1zM30.8 6.1L31.1 9.7L34.9 10.3L36.2 6.9zM31.3 9.1L30.4 13.1L32 13.9L34.7 10.9zM9.8 22.5a2.5 2.5 0 1 0 5 0a2.5 2.5 0 1 0 -5 0zM7 30a2 2 0 1 0 4.1 0a2 2 0 1 0 -4.1 0zM3.4 38.5a1.6 1.6 0 1 0 3.2 0a1.6 1.6 0 1 0 -3.2 0zM0.1 46.5a0.9 0.9 0 1 0 1.8 0a0.9 0.9 0 1 0 -1.8 0zM10 21.5L7.1 29.2L10.9 30.8L14.6 23.5zM7.2 29.1L3.6 37.8L6.4 39.2L10.8 30.9zM3.6 37.8L0.2 46.1L1.8 46.9L6.4 39.2zM21.3 22.3a2.2 2.2 0 1 0 4.4 0a2.2 2.2 0 1 0 -4.4 0zM31.3 19.5a2.7 2.7 0 1 0 5.4 0a2.7 2.7 0 1 0 -5.4 0zM43.1 16a2.4 2.4 0 1 0 4.8 0a2.4 2.4 0 1 0 -4.8 0zM24.1 24.4L34.7 22.1L33.3 16.9L22.9 20.2zM34.8 22.1L46.2 18.3L44.8 13.7L33.2 16.9zM42.6 18a1.4 1.4 0 1 0 2.7 0a1.4 1.4 0 1 0 -2.7 0zM33.9 25a1.1 1.1 0 1 0 2.2 0a1.1 1.1 0 1 0 -2.2 0zM24.6 31a1.4 1.4 0 1 0 2.7 0a1.4 1.4 0 1 0 -2.7 0zM43.2 16.9L34.3 24.1L35.7 25.9L44.8 19.1zM34.4 24.1L25.2 29.9L26.8 32.1L35.6 25.9zM51.9 26.8a1.7 1.7 0 1 0 3.3 0a1.7 1.7 0 1 0 -3.3 0zM40.1 30a1.9 1.9 0 1 0 3.9 0a1.9 1.9 0 1 0 -3.9 0zM27.7 34.5a2.3 2.3 0 1 0 4.5 0a2.3 2.3 0 1 0 -4.5 0zM17.2 39.5a2.8 2.8 0 1 0 5.5 0a2.8 2.8 0 1 0 -5.5 0zM12.3 42.3a2.2 2.2 0 1 0 4.4 0a2.2 2.2 0 1 0 -4.4 0zM53.1 25.2L41.5 28.1L42.5 31.9L53.9 28.4zM41.3 28.2L29.2 32.4L30.8 36.6L42.7 31.8zM29 32.5L18.8 37L21.2 42L31 36.5zM18.7 37L13.5 40.3L15.5 44.3L21.3 42zM45 29.5a1.5 1.5 0 1 0 3 0a1.5 1.5 0 1 0 -3 0zM41.7 34.5a0.8 0.8 0 1 0 1.6 0a0.8 0.8 0 1 0 -1.6 0zM45.3 28.6L41.9 34L43.1 35L47.7 30.4z" fill="#d8d8d8" filter="url(#b1)"/>
<path d="M23.9 41.5L56 40.5L58.7 79.5L44 78.5L17 72.5L14.5 62L20.5 51z" fill="#d4d4d4" filter="url(#b1)"/>
<path d="M25.5 44L54 43L56.5 76.5L44 75.5L19.5 70L17.5 62L22.5 52z" fill="#f8f8f8" filter="url(#b1)"/>
<g fill="none" stroke="#8a8a8a" filter="url(#b1)" stroke-linecap="round"><ellipse cx="40.4" cy="66.3" rx="6" ry="2.3" stroke-width="2.3" transform="rotate(-15 40.4 66.3)"/><path d="M47.6 44L50 75" stroke-width="2.6"/><path d="M28 55L22.5 58.6L28.5 61" stroke-width="2.4"/></g>
</g>

</g>
</svg>
<svg x="665.2" y="273" width="60.5" height="88.5" viewBox="0 0 60.5 88.5" overflow="hidden">
<g filter="url(#nI2)">
<rect width="60.5" height="88.5" fill="#626262"/>

<g transform="scale(1.0083 1.0172)">
<path d="M33 42L54 41L57 85L35 79L15 75L20 56L26 44.5z" fill="#a6a6a6" filter="url(#b2)" transform="translate(2 3) scale(0.95 0.9)"/>
<path d="M23.3 1.5a1.7 1.7 0 1 0 3.4 0a1.7 1.7 0 1 0 -3.4 0zM26.5 3a2.5 2.5 0 1 0 5.1 0a2.5 2.5 0 1 0 -5.1 0zM30.7 6.5a2.8 2.8 0 1 0 5.6 0a2.8 2.8 0 1 0 -5.6 0zM31 10a2 2 0 1 0 4 0a2 2 0 1 0 -4 0zM30.2 13.5a1 1 0 1 0 1.9 0a1 1 0 1 0 -1.9 0zM24.4 3.1L28.1 5.4L29.9 0.6L25.6 -0.1zM27.4 5L31.8 8.7L35.2 4.3L30.6 1zM30.7 6.1L31 9.7L35 10.3L36.3 6.9zM31.2 9.1L30.3 13.1L32.1 13.9L34.8 10.9zM9.8 22.5a2.5 2.5 0 1 0 5.1 0a2.5 2.5 0 1 0 -5.1 0zM6.9 30a2.1 2.1 0 1 0 4.2 0a2.1 2.1 0 1 0 -4.2 0zM3.4 38.5a1.6 1.6 0 1 0 3.3 0a1.6 1.6 0 1 0 -3.3 0zM0 46.5a1 1 0 1 0 1.9 0a1 1 0 1 0 -1.9 0zM10 21.5L7.1 29.2L10.9 30.8L14.6 23.5zM7.1 29.1L3.5 37.8L6.5 39.2L10.9 30.9zM3.5 37.8L0.1 46.1L1.9 46.9L6.5 39.2zM21.2 22.3a2.3 2.3 0 1 0 4.5 0a2.3 2.3 0 1 0 -4.5 0zM31.2 19.5a2.8 2.8 0 1 0 5.5 0a2.8 2.8 0 1 0 -5.5 0zM43.1 16a2.4 2.4 0 1 0 4.9 0a2.4 2.4 0 1 0 -4.9 0zM24.1 24.5L34.7 22.2L33.3 16.8L22.9 20.1zM34.8 22.1L46.2 18.3L44.8 13.7L33.2 16.9zM42.6 18a1.4 1.4 0 1 0 2.8 0a1.4 1.4 0 1 0 -2.8 0zM33.9 25a1.1 1.1 0 1 0 2.3 0a1.1 1.1 0 1 0 -2.3 0zM24.6 31a1.4 1.4 0 1 0 2.8 0a1.4 1.4 0 1 0 -2.8 0zM43.1 16.9L34.3 24.1L35.7 25.9L44.9 19.1zM34.4 24.1L25.2 29.8L26.8 32.2L35.6 25.9zM51.8 26.8a1.7 1.7 0 1 0 3.4 0a1.7 1.7 0 1 0 -3.4 0zM40 30a2 2 0 1 0 4 0a2 2 0 1 0 -4 0zM27.7 34.5a2.3 2.3 0 1 0 4.6 0a2.3 2.3 0 1 0 -4.6 0zM17.2 39.5a2.8 2.8 0 1 0 5.6 0a2.8 2.8 0 1 0 -5.6 0zM12.2 42.3a2.3 2.3 0 1 0 4.5 0a2.3 2.3 0 1 0 -4.5 0zM53 25.2L41.5 28.1L42.5 31.9L54 28.4zM41.3 28.1L29.2 32.3L30.8 36.7L42.7 31.9zM29 32.4L18.7 37L21.3 42L31 36.6zM18.7 37L13.5 40.3L15.5 44.3L21.3 42zM45 29.5a1.5 1.5 0 1 0 3.1 0a1.5 1.5 0 1 0 -3.1 0zM41.6 34.5a0.9 0.9 0 1 0 1.7 0a0.9 0.9 0 1 0 -1.7 0zM45.3 28.5L41.8 34L43.2 35L47.7 30.5zM30.1 42a2.9 2.9 0 1 0 5.8 0a2.9 2.9 0 1 0 -5.8 0zM42.1 41a2.9 2.9 0 1 0 5.8 0a2.9 2.9 0 1 0 -5.8 0zM50.8 41a3.2 3.2 0 1 0 6.5 0a3.2 3.2 0 1 0 -6.5 0zM33.2 44.9L45.2 43.9L44.8 38.1L32.8 39.1zM45 43.9L54 44.2L54 37.8L45 38.1zM50.5 41a3.5 3.5 0 1 0 7.1 0a3.5 3.5 0 1 0 -7.1 0zM52.3 60a3.2 3.2 0 1 0 6.5 0a3.2 3.2 0 1 0 -6.5 0zM54.1 85a2.9 2.9 0 1 0 5.8 0a2.9 2.9 0 1 0 -5.8 0zM50.5 41.3L52.3 60.3L58.7 59.7L57.5 40.7zM52.3 60.2L54.1 85.2L59.9 84.8L58.7 59.8zM24.3 44.5a1.7 1.7 0 1 0 3.5 0a1.7 1.7 0 1 0 -3.5 0zM18.1 56a1.9 1.9 0 1 0 3.9 0a1.9 1.9 0 1 0 -3.9 0zM13.8 68a2.2 2.2 0 1 0 4.5 0a2.2 2.2 0 1 0 -4.5 0zM11.4 75a3.5 3.5 0 1 0 7.1 0a3.5 3.5 0 1 0 -7.1 0zM24.5 43.7L18.3 55.1L21.7 56.9L27.5 45.3zM18.2 55.4L13.9 67.3L18.1 68.7L21.8 56.6zM13.8 67.7L11.5 74.5L18.5 75.5L18.2 68.3zM11.1 75a3.9 3.9 0 1 0 7.8 0a3.9 3.9 0 1 0 -7.8 0zM20.8 78a4.2 4.2 0 1 0 8.4 0a4.2 4.2 0 1 0 -8.4 0zM39.5 79.5a3.5 3.5 0 1 0 7.1 0a3.5 3.5 0 1 0 -7.1 0zM48.8 83a3.2 3.2 0 1 0 6.5 0a3.2 3.2 0 1 0 -6.5 0zM54.1 85.5a2.9 2.9 0 1 0 5.8 0a2.9 2.9 0 1 0 -5.8 0zM13.9 78.7L23.8 82L26.2 74L16.1 71.3zM24.7 82.2L42.7 83L43.3 76L25.3 73.8zM41.7 82.8L50.8 86L53.2 80L44.3 76.2zM50.6 85.9L55.7 88.1L58.3 82.9L53.4 80.1z" fill="#cecece" filter="url(#b1)"/>
<path d="M24.3 1.5a0.7 0.7 0 1 0 1.4 0a0.7 0.7 0 1 0 -1.4 0zM27.9 3a1.1 1.1 0 1 0 2.2 0a1.1 1.1 0 1 0 -2.2 0zM32.2 6.5a1.3 1.3 0 1 0 2.5 0a1.3 1.3 0 1 0 -2.5 0zM32.2 10a0.8 0.8 0 1 0 1.7 0a0.8 0.8 0 1 0 -1.7 0zM30.9 13.5a0.3 0.3 0 1 0 0.7 0a0.3 0.3 0 1 0 -0.7 0zM24.8 2.2L28.6 4L29.4 2L25.2 0.8zM28.3 3.9L32.7 7.5L34.3 5.5L29.7 2.1zM32.3 6.3L32.2 9.9L33.8 10.1L34.7 6.7zM32.3 9.6L30.9 13.3L31.5 13.7L33.7 10.4zM11.2 22.5a1.1 1.1 0 1 0 2.2 0a1.1 1.1 0 1 0 -2.2 0zM8.1 30a0.9 0.9 0 1 0 1.8 0a0.9 0.9 0 1 0 -1.8 0zM4.3 38.5a0.7 0.7 0 1 0 1.3 0a0.7 0.7 0 1 0 -1.3 0zM0.7 46.5a0.3 0.3 0 1 0 0.7 0a0.3 0.3 0 1 0 -0.7 0zM11.3 22L8.2 29.6L9.8 30.4L13.3 23zM8.2 29.6L4.4 38.2L5.6 38.8L9.8 30.4zM4.4 38.2L0.7 46.3L1.3 46.7L5.6 38.8zM22.5 22.3a1 1 0 1 0 2 0a1 1 0 1 0 -2 0zM32.8 19.5a1.2 1.2 0 1 0 2.5 0a1.2 1.2 0 1 0 -2.5 0zM44.4 16a1.1 1.1 0 1 0 2.1 0a1.1 1.1 0 1 0 -2.1 0zM23.8 23.2L34.3 20.7L33.7 18.3L23.2 21.4zM34.4 20.7L45.8 17L45.2 15L33.6 18.3zM43.4 18a0.6 0.6 0 1 0 1.1 0a0.6 0.6 0 1 0 -1.1 0zM34.6 25a0.4 0.4 0 1 0 0.8 0a0.4 0.4 0 1 0 -0.8 0zM25.4 31a0.6 0.6 0 1 0 1.1 0a0.6 0.6 0 1 0 -1.1 0zM43.7 17.6L34.7 24.7L35.3 25.3L44.3 18.4zM34.8 24.7L25.7 30.5L26.3 31.5L35.2 25.3zM52.8 26.8a0.7 0.7 0 1 0 1.4 0a0.7 0.7 0 1 0 -1.4 0zM41.2 30a0.8 0.8 0 1 0 1.7 0a0.8 0.8 0 1 0 -1.7 0zM29 34.5a1 1 0 1 0 2 0a1 1 0 1 0 -2 0zM18.7 39.5a1.3 1.3 0 1 0 2.5 0a1.3 1.3 0 1 0 -2.5 0zM13.5 42.3a1 1 0 1 0 2 0a1 1 0 1 0 -2 0zM53.3 26.1L41.8 29.2L42.2 30.8L53.7 27.5zM41.7 29.2L29.6 33.6L30.4 35.4L42.3 30.8zM29.5 33.6L19.4 38.4L20.6 40.6L30.5 35.4zM19.4 38.4L14.1 41.4L14.9 43.2L20.6 40.6zM45.9 29.5a0.6 0.6 0 1 0 1.2 0a0.6 0.6 0 1 0 -1.2 0zM42.2 34.5a0.3 0.3 0 1 0 0.6 0a0.3 0.3 0 1 0 -0.6 0zM46 29.1L42.3 34.3L42.7 34.7L47 29.9zM31.7 42a1.3 1.3 0 1 0 2.6 0a1.3 1.3 0 1 0 -2.6 0zM43.7 41a1.3 1.3 0 1 0 2.6 0a1.3 1.3 0 1 0 -2.6 0zM52.5 41a1.5 1.5 0 1 0 2.9 0a1.5 1.5 0 1 0 -2.9 0zM33.1 43.3L45.1 42.3L44.9 39.7L32.9 40.7zM45 42.3L54 42.5L54 39.5L45 39.7zM52.4 41a1.6 1.6 0 1 0 3.2 0a1.6 1.6 0 1 0 -3.2 0zM54 60a1.5 1.5 0 1 0 2.9 0a1.5 1.5 0 1 0 -2.9 0zM55.7 85a1.3 1.3 0 1 0 2.6 0a1.3 1.3 0 1 0 -2.6 0zM52.4 41.1L54 60.1L57 59.9L55.6 40.9zM54 60.1L55.7 85.1L58.3 84.9L57 59.9zM25.3 44.5a0.7 0.7 0 1 0 1.4 0a0.7 0.7 0 1 0 -1.4 0zM19.2 56a0.8 0.8 0 1 0 1.6 0a0.8 0.8 0 1 0 -1.6 0zM15 68a1 1 0 1 0 2 0a1 1 0 1 0 -2 0zM13.4 75a1.6 1.6 0 1 0 3.2 0a1.6 1.6 0 1 0 -3.2 0zM25.4 44.2L19.3 55.6L20.7 56.4L26.6 44.8zM19.2 55.7L15.1 67.7L16.9 68.3L20.8 56.3zM15 67.9L13.4 74.8L16.6 75.2L17 68.1zM13.2 75a1.8 1.8 0 1 0 3.6 0a1.8 1.8 0 1 0 -3.6 0zM23.1 78a2 2 0 1 0 3.9 0a2 2 0 1 0 -3.9 0zM41.4 79.5a1.6 1.6 0 1 0 3.2 0a1.6 1.6 0 1 0 -3.2 0zM50.5 83a1.5 1.5 0 1 0 2.9 0a1.5 1.5 0 1 0 -2.9 0zM55.7 85.5a1.3 1.3 0 1 0 2.6 0a1.3 1.3 0 1 0 -2.6 0zM14.5 76.7L24.4 79.9L25.6 76.1L15.5 73.3zM24.8 79.9L42.9 81.1L43.1 77.9L25.2 76.1zM42.4 81L51.5 84.4L52.5 81.6L43.6 78zM51.3 84.3L56.4 86.7L57.6 84.3L52.7 81.7z" fill="#808080" filter="url(#b05)"/>
<path d="M23 58.5a1 1 0 1 0 2 0a1 1 0 1 0 -2 0zM32.7 59a1.3 1.3 0 1 0 2.6 0a1.3 1.3 0 1 0 -2.6 0zM42.5 60a1 1 0 1 0 2 0a1 1 0 1 0 -2 0zM24 59.5L33.9 60.3L34.1 57.7L24 57.5zM33.9 60.3L43.4 61L43.6 59L34.1 57.7zM22.6 74a1.4 1.4 0 1 0 2.8 0a1.4 1.4 0 1 0 -2.8 0zM35 72a1 1 0 1 0 2 0a1 1 0 1 0 -2 0zM44.7 69.5a0.8 0.8 0 1 0 1.6 0a0.8 0.8 0 1 0 -1.6 0zM24.2 75.4L36.2 73L35.8 71L23.8 72.6zM36.3 73L45.7 70.3L45.3 68.7L35.7 71z" fill="#8a8a8a" filter="url(#b1)"/>
</g>

</g>
</svg>
<svg x="863.5" y="147.5" width="61" height="85" viewBox="0 0 61 85" overflow="hidden">
<g filter="url(#nF)">
<rect width="61" height="85" fill="#13707a"/>

<g transform="scale(1.0167 0.9770)">
<path d="M26 41.5L48 41.5L50 60L39 75L20 80L15.5 71L22.7 53.6z" fill="#f87868" filter="url(#b1)"/>
<path d="M22.8 1.5a2.2 2.2 0 1 0 4.3 0a2.2 2.2 0 1 0 -4.3 0zM26.1 3a2.9 2.9 0 1 0 5.8 0a2.9 2.9 0 1 0 -5.8 0zM30.3 6.5a3.2 3.2 0 1 0 6.3 0a3.2 3.2 0 1 0 -6.3 0zM30.6 10a2.4 2.4 0 1 0 4.8 0a2.4 2.4 0 1 0 -4.8 0zM29.7 13.5a1.5 1.5 0 1 0 3 0a1.5 1.5 0 1 0 -3 0zM24.2 3.5L28 5.7L30 0.3L25.8 -0.5zM27.2 5.3L31.6 9L35.4 4L30.8 0.7zM30.4 6.1L30.6 9.7L35.4 10.3L36.6 6.9zM30.9 8.9L29.9 12.8L32.5 14.2L35.1 11.1zM9.4 22.5a2.9 2.9 0 1 0 5.8 0a2.9 2.9 0 1 0 -5.8 0zM6.5 30a2.5 2.5 0 1 0 5 0a2.5 2.5 0 1 0 -5 0zM2.9 38.5a2.1 2.1 0 1 0 4.2 0a2.1 2.1 0 1 0 -4.2 0zM-0.5 46.5a1.5 1.5 0 1 0 3 0a1.5 1.5 0 1 0 -3 0zM9.6 21.3L6.7 29L11.3 31L15 23.7zM6.7 28.9L3.1 37.6L6.9 39.4L11.3 31.1zM3.1 37.6L-0.3 45.8L2.3 47.2L6.9 39.4zM20.8 22.3a2.7 2.7 0 1 0 5.3 0a2.7 2.7 0 1 0 -5.3 0zM30.9 19.5a3.1 3.1 0 1 0 6.2 0a3.1 3.1 0 1 0 -6.2 0zM42.7 16a2.8 2.8 0 1 0 5.6 0a2.8 2.8 0 1 0 -5.6 0zM24.2 24.9L34.8 22.5L33.2 16.5L22.8 19.7zM34.9 22.5L46.3 18.7L44.7 13.3L33.1 16.5zM42.1 18a1.9 1.9 0 1 0 3.8 0a1.9 1.9 0 1 0 -3.8 0zM33.3 25a1.7 1.7 0 1 0 3.3 0a1.7 1.7 0 1 0 -3.3 0zM24.1 31a1.9 1.9 0 1 0 3.8 0a1.9 1.9 0 1 0 -3.8 0zM42.8 16.5L34 23.7L36 26.3L45.2 19.5zM34.1 23.6L24.9 29.4L27.1 32.6L35.9 26.4zM51.3 26.8a2.2 2.2 0 1 0 4.3 0a2.2 2.2 0 1 0 -4.3 0zM39.6 30a2.4 2.4 0 1 0 4.8 0a2.4 2.4 0 1 0 -4.8 0zM27.3 34.5a2.7 2.7 0 1 0 5.4 0a2.7 2.7 0 1 0 -5.4 0zM16.8 39.5a3.2 3.2 0 1 0 6.3 0a3.2 3.2 0 1 0 -6.3 0zM11.8 42.3a2.7 2.7 0 1 0 5.3 0a2.7 2.7 0 1 0 -5.3 0zM52.9 24.7L41.4 27.7L42.6 32.3L54.1 28.9zM41.2 27.7L29 32L31 37L42.8 32.3zM28.8 32.1L18.6 36.7L21.4 42.3L31.2 36.9zM18.6 36.7L13.3 39.9L15.7 44.7L21.4 42.3zM44.5 29.5a2 2 0 1 0 4 0a2 2 0 1 0 -4 0zM41.1 34.5a1.4 1.4 0 1 0 2.8 0a1.4 1.4 0 1 0 -2.8 0zM44.9 28.2L41.4 33.6L43.6 35.4L48.1 30.8zM29.8 42a3.2 3.2 0 1 0 6.5 0a3.2 3.2 0 1 0 -6.5 0zM41.8 41a3.2 3.2 0 1 0 6.5 0a3.2 3.2 0 1 0 -6.5 0zM50.5 41a3.5 3.5 0 1 0 7.1 0a3.5 3.5 0 1 0 -7.1 0zM33.3 45.2L45.3 44.2L44.7 37.8L32.7 38.8zM45 44.2L54 44.5L54 37.5L45 37.8zM50.2 41a3.8 3.8 0 1 0 7.7 0a3.8 3.8 0 1 0 -7.7 0zM52 60a3.5 3.5 0 1 0 7.1 0a3.5 3.5 0 1 0 -7.1 0zM53.8 85a3.2 3.2 0 1 0 6.5 0a3.2 3.2 0 1 0 -6.5 0zM50.2 41.3L52 60.3L59 59.7L57.8 40.7zM52 60.2L53.8 85.2L60.2 84.8L59 59.8zM23.8 44.5a2.2 2.2 0 1 0 4.4 0a2.2 2.2 0 1 0 -4.4 0zM17.6 56a2.4 2.4 0 1 0 4.7 0a2.4 2.4 0 1 0 -4.7 0zM13.3 68a2.7 2.7 0 1 0 5.3 0a2.7 2.7 0 1 0 -5.3 0zM11.2 75a3.8 3.8 0 1 0 7.7 0a3.8 3.8 0 1 0 -7.7 0zM24.1 43.5L17.9 54.9L22.1 57.1L27.9 45.5zM17.8 55.3L13.5 67.2L18.5 68.8L22.2 56.7zM13.4 67.6L11.2 74.5L18.8 75.5L18.6 68.4zM10.9 75a4.1 4.1 0 1 0 8.2 0a4.1 4.1 0 1 0 -8.2 0zM20.6 78a4.4 4.4 0 1 0 8.8 0a4.4 4.4 0 1 0 -8.8 0zM39.2 79.5a3.8 3.8 0 1 0 7.7 0a3.8 3.8 0 1 0 -7.7 0zM48.5 83a3.5 3.5 0 1 0 7.1 0a3.5 3.5 0 1 0 -7.1 0zM53.8 85.5a3.2 3.2 0 1 0 6.5 0a3.2 3.2 0 1 0 -6.5 0zM13.8 78.9L23.7 82.2L26.3 73.8L16.2 71.1zM24.6 82.4L42.7 83.3L43.3 75.7L25.4 73.6zM41.6 83.1L50.7 86.3L53.3 79.7L44.4 75.9zM50.4 86.2L55.6 88.4L58.4 82.6L53.6 79.8z" fill="#5040c0" filter="url(#b2)" opacity="0.8" transform="translate(0.8 1.2)"/>
<ellipse cx="37" cy="72" rx="9" ry="5" fill="#5048c0" opacity="0.75" filter="url(#b2)" transform="rotate(-15 37 72)"/>
<path d="M23.6 1.5a1.4 1.4 0 1 0 2.8 0a1.4 1.4 0 1 0 -2.8 0zM27 3a2 2 0 1 0 3.9 0a2 2 0 1 0 -3.9 0zM31.3 6.5a2.2 2.2 0 1 0 4.3 0a2.2 2.2 0 1 0 -4.3 0zM31.4 10a1.6 1.6 0 1 0 3.2 0a1.6 1.6 0 1 0 -3.2 0zM30.3 13.5a0.9 0.9 0 1 0 1.7 0a0.9 0.9 0 1 0 -1.7 0zM24.5 2.8L28.3 4.8L29.7 1.2L25.5 0.2zM27.8 4.6L32.2 8.2L34.8 4.8L30.2 1.4zM31.4 6.2L31.4 9.8L34.6 10.2L35.6 6.8zM31.6 9.3L30.4 13.1L32 13.9L34.4 10.7zM10.3 22.5a2 2 0 1 0 3.9 0a2 2 0 1 0 -3.9 0zM7.3 30a1.7 1.7 0 1 0 3.3 0a1.7 1.7 0 1 0 -3.3 0zM3.7 38.5a1.3 1.3 0 1 0 2.7 0a1.3 1.3 0 1 0 -2.7 0zM0.1 46.5a0.9 0.9 0 1 0 1.7 0a0.9 0.9 0 1 0 -1.7 0zM10.5 21.7L7.5 29.3L10.5 30.7L14.1 23.3zM7.5 29.3L3.8 37.9L6.2 39.1L10.5 30.7zM3.8 37.9L0.2 46.1L1.8 46.9L6.2 39.1zM21.7 22.3a1.8 1.8 0 1 0 3.5 0a1.8 1.8 0 1 0 -3.5 0zM31.9 19.5a2.1 2.1 0 1 0 4.2 0a2.1 2.1 0 1 0 -4.2 0zM43.6 16a1.9 1.9 0 1 0 3.8 0a1.9 1.9 0 1 0 -3.8 0zM24 24L34.5 21.6L33.5 17.4L23 20.6zM34.6 21.5L46.1 17.8L44.9 14.2L33.4 17.5zM42.8 18a1.2 1.2 0 1 0 2.4 0a1.2 1.2 0 1 0 -2.4 0zM34 25a1 1 0 1 0 2 0a1 1 0 1 0 -2 0zM24.8 31a1.2 1.2 0 1 0 2.4 0a1.2 1.2 0 1 0 -2.4 0zM43.3 17.1L34.4 24.2L35.6 25.8L44.7 18.9zM34.5 24.2L25.3 30L26.7 32L35.5 25.8zM52.1 26.8a1.4 1.4 0 1 0 2.8 0a1.4 1.4 0 1 0 -2.8 0zM40.4 30a1.6 1.6 0 1 0 3.2 0a1.6 1.6 0 1 0 -3.2 0zM28.2 34.5a1.8 1.8 0 1 0 3.6 0a1.8 1.8 0 1 0 -3.6 0zM17.8 39.5a2.2 2.2 0 1 0 4.3 0a2.2 2.2 0 1 0 -4.3 0zM12.7 42.3a1.8 1.8 0 1 0 3.5 0a1.8 1.8 0 1 0 -3.5 0zM53.1 25.5L41.6 28.5L42.4 31.5L53.9 28.1zM41.4 28.5L29.4 32.8L30.6 36.2L42.6 31.5zM29.2 32.9L19 37.6L21 41.4L30.8 36.1zM19 37.6L13.7 40.7L15.3 43.9L21 41.4zM45.2 29.5a1.3 1.3 0 1 0 2.5 0a1.3 1.3 0 1 0 -2.5 0zM41.7 34.5a0.8 0.8 0 1 0 1.6 0a0.8 0.8 0 1 0 -1.6 0zM45.5 28.7L41.9 34L43.1 35L47.5 30.3zM30.8 42a2.2 2.2 0 1 0 4.4 0a2.2 2.2 0 1 0 -4.4 0zM42.8 41a2.2 2.2 0 1 0 4.4 0a2.2 2.2 0 1 0 -4.4 0zM51.6 41a2.4 2.4 0 1 0 4.9 0a2.4 2.4 0 1 0 -4.9 0zM33.2 44.2L45.2 43.2L44.8 38.8L32.8 39.8zM45 43.2L54 43.4L54 38.6L45 38.8zM51.3 41a2.7 2.7 0 1 0 5.3 0a2.7 2.7 0 1 0 -5.3 0zM53.1 60a2.4 2.4 0 1 0 4.9 0a2.4 2.4 0 1 0 -4.9 0zM54.8 85a2.2 2.2 0 1 0 4.4 0a2.2 2.2 0 1 0 -4.4 0zM51.3 41.2L53.1 60.2L57.9 59.8L56.7 40.8zM53.1 60.1L54.8 85.1L59.2 84.9L57.9 59.9zM24.6 44.5a1.4 1.4 0 1 0 2.8 0a1.4 1.4 0 1 0 -2.8 0zM18.5 56a1.5 1.5 0 1 0 3.1 0a1.5 1.5 0 1 0 -3.1 0zM14.2 68a1.8 1.8 0 1 0 3.5 0a1.8 1.8 0 1 0 -3.5 0zM12.3 75a2.7 2.7 0 1 0 5.3 0a2.7 2.7 0 1 0 -5.3 0zM24.8 43.9L18.6 55.3L21.4 56.7L27.2 45.1zM18.5 55.5L14.3 67.4L17.7 68.6L21.5 56.5zM14.3 67.8L12.4 74.6L17.6 75.4L17.7 68.2zM12.1 75a2.9 2.9 0 1 0 5.8 0a2.9 2.9 0 1 0 -5.8 0zM21.9 78a3.1 3.1 0 1 0 6.3 0a3.1 3.1 0 1 0 -6.3 0zM40.3 79.5a2.7 2.7 0 1 0 5.3 0a2.7 2.7 0 1 0 -5.3 0zM49.6 83a2.4 2.4 0 1 0 4.9 0a2.4 2.4 0 1 0 -4.9 0zM54.8 85.5a2.2 2.2 0 1 0 4.4 0a2.2 2.2 0 1 0 -4.4 0zM14.2 77.8L24.1 81L25.9 75L15.8 72.2zM24.7 81.1L42.8 82.2L43.2 76.8L25.3 74.9zM42 82L51.1 85.3L52.9 80.7L44 77zM50.9 85.2L56 87.5L58 83.5L53.1 80.8z" fill="#e0b840" filter="url(#b1)" opacity="0.9"/>
<path d="M24.2 1.5a0.8 0.8 0 1 0 1.5 0a0.8 0.8 0 1 0 -1.5 0zM27.8 3a1.2 1.2 0 1 0 2.5 0a1.2 1.2 0 1 0 -2.5 0zM32.1 6.5a1.4 1.4 0 1 0 2.8 0a1.4 1.4 0 1 0 -2.8 0zM32.1 10a0.9 0.9 0 1 0 1.8 0a0.9 0.9 0 1 0 -1.8 0zM30.8 13.5a0.4 0.4 0 1 0 0.7 0a0.4 0.4 0 1 0 -0.7 0zM24.7 2.2L28.6 4.2L29.4 1.8L25.3 0.8zM28.2 4L32.6 7.6L34.4 5.4L29.8 2zM32.1 6.3L32.1 9.9L33.9 10.1L34.9 6.7zM32.2 9.6L30.9 13.3L31.5 13.7L33.8 10.4zM11.1 22.5a1.2 1.2 0 1 0 2.5 0a1.2 1.2 0 1 0 -2.5 0zM8 30a1 1 0 1 0 2 0a1 1 0 1 0 -2 0zM4.3 38.5a0.7 0.7 0 1 0 1.5 0a0.7 0.7 0 1 0 -1.5 0zM0.6 46.5a0.4 0.4 0 1 0 0.7 0a0.4 0.4 0 1 0 -0.7 0zM11.2 22L8.1 29.6L9.9 30.4L13.4 23zM8.1 29.6L4.3 38.2L5.7 38.8L9.9 30.4zM4.3 38.2L0.7 46.3L1.3 46.7L5.7 38.8zM22.4 22.3a1.1 1.1 0 1 0 2.2 0a1.1 1.1 0 1 0 -2.2 0zM32.6 19.5a1.4 1.4 0 1 0 2.7 0a1.4 1.4 0 1 0 -2.7 0zM44.3 16a1.2 1.2 0 1 0 2.3 0a1.2 1.2 0 1 0 -2.3 0zM23.8 23.3L34.3 20.8L33.7 18.2L23.2 21.3zM34.4 20.8L45.8 17.1L45.2 14.9L33.6 18.2zM43.4 18a0.6 0.6 0 1 0 1.2 0a0.6 0.6 0 1 0 -1.2 0zM34.5 25a0.5 0.5 0 1 0 0.9 0a0.5 0.5 0 1 0 -0.9 0zM25.4 31a0.6 0.6 0 1 0 1.2 0a0.6 0.6 0 1 0 -1.2 0zM43.6 17.5L34.7 24.6L35.3 25.4L44.4 18.5zM34.7 24.6L25.7 30.5L26.3 31.5L35.3 25.4zM52.7 26.8a0.8 0.8 0 1 0 1.5 0a0.8 0.8 0 1 0 -1.5 0zM41.1 30a0.9 0.9 0 1 0 1.8 0a0.9 0.9 0 1 0 -1.8 0zM28.9 34.5a1.1 1.1 0 1 0 2.2 0a1.1 1.1 0 1 0 -2.2 0zM18.6 39.5a1.4 1.4 0 1 0 2.8 0a1.4 1.4 0 1 0 -2.8 0zM13.4 42.3a1.1 1.1 0 1 0 2.2 0a1.1 1.1 0 1 0 -2.2 0zM53.3 26.1L41.8 29.1L42.2 30.9L53.7 27.5zM41.7 29.1L29.6 33.5L30.4 35.5L42.3 30.9zM29.5 33.5L19.4 38.3L20.6 40.7L30.5 35.5zM19.4 38.3L14 41.3L15 43.3L20.6 40.7zM45.8 29.5a0.7 0.7 0 1 0 1.4 0a0.7 0.7 0 1 0 -1.4 0zM42.2 34.5a0.3 0.3 0 1 0 0.6 0a0.3 0.3 0 1 0 -0.6 0zM46 29.1L42.3 34.3L42.7 34.7L47 29.9zM31.6 42a1.4 1.4 0 1 0 2.9 0a1.4 1.4 0 1 0 -2.9 0zM43.6 41a1.4 1.4 0 1 0 2.9 0a1.4 1.4 0 1 0 -2.9 0zM52.4 41a1.6 1.6 0 1 0 3.2 0a1.6 1.6 0 1 0 -3.2 0zM33.1 43.4L45.1 42.4L44.9 39.6L32.9 40.6zM45 42.4L54 42.6L54 39.4L45 39.6zM52.2 41a1.8 1.8 0 1 0 3.6 0a1.8 1.8 0 1 0 -3.6 0zM53.9 60a1.6 1.6 0 1 0 3.2 0a1.6 1.6 0 1 0 -3.2 0zM55.6 85a1.4 1.4 0 1 0 2.9 0a1.4 1.4 0 1 0 -2.9 0zM52.2 41.1L53.9 60.1L57.1 59.9L55.8 40.9zM53.9 60.1L55.6 85.1L58.4 84.9L57.1 59.9zM25.2 44.5a0.8 0.8 0 1 0 1.6 0a0.8 0.8 0 1 0 -1.6 0zM19.1 56a0.9 0.9 0 1 0 1.8 0a0.9 0.9 0 1 0 -1.8 0zM14.9 68a1.1 1.1 0 1 0 2.1 0a1.1 1.1 0 1 0 -2.1 0zM13.2 75a1.8 1.8 0 1 0 3.6 0a1.8 1.8 0 1 0 -3.6 0zM25.3 44.1L19.2 55.6L20.8 56.4L26.7 44.9zM19.2 55.7L15 67.7L17 68.3L20.8 56.3zM14.9 67.8L13.2 74.7L16.8 75.3L17.1 68.2zM13 75a2 2 0 1 0 3.9 0a2 2 0 1 0 -3.9 0zM22.9 78a2.1 2.1 0 1 0 4.3 0a2.1 2.1 0 1 0 -4.3 0zM41.2 79.5a1.8 1.8 0 1 0 3.6 0a1.8 1.8 0 1 0 -3.6 0zM50.4 83a1.6 1.6 0 1 0 3.2 0a1.6 1.6 0 1 0 -3.2 0zM55.6 85.5a1.4 1.4 0 1 0 2.9 0a1.4 1.4 0 1 0 -2.9 0zM14.4 76.9L24.4 80.1L25.6 75.9L15.6 73.1zM24.8 80.1L42.9 81.3L43.1 77.7L25.2 75.9zM42.4 81.2L51.4 84.5L52.6 81.5L43.6 77.8zM51.3 84.4L56.4 86.8L57.6 84.2L52.7 81.6z" fill="#f87868" filter="url(#b05)"/>
<path d="M38.2 42a2.8 2.8 0 1 0 5.6 0a2.8 2.8 0 1 0 -5.6 0zM28 50a3 3 0 1 0 5.9 0a3 3 0 1 0 -5.9 0zM20.8 58a1.8 1.8 0 1 0 3.5 0a1.8 1.8 0 1 0 -3.5 0zM39.3 39.8L29.1 47.7L32.9 52.3L42.7 44.2zM29 47.8L21.3 56.7L23.7 59.3L33 52.2zM22.2 58.5a1.8 1.8 0 1 0 3.5 0a1.8 1.8 0 1 0 -3.5 0zM31.7 59a2.3 2.3 0 1 0 4.5 0a2.3 2.3 0 1 0 -4.5 0zM41.8 60a1.8 1.8 0 1 0 3.5 0a1.8 1.8 0 1 0 -3.5 0zM23.9 60.2L33.9 61.3L34.1 56.7L24.1 56.8zM33.8 61.3L43.3 61.7L43.7 58.3L34.2 56.7z" fill="#f87868" filter="url(#b1)"/>
<path d="M42 62a1 1 0 1 0 2 0a1 1 0 1 0 -2 0zM30.5 68a1.5 1.5 0 1 0 3 0a1.5 1.5 0 1 0 -3 0zM19.6 72.5a1.4 1.4 0 1 0 2.8 0a1.4 1.4 0 1 0 -2.8 0zM42.5 61.1L31.3 66.7L32.7 69.3L43.5 62.9zM31.4 66.6L20.5 71.2L21.5 73.8L32.6 69.4zM22.6 74a1.4 1.4 0 1 0 2.8 0a1.4 1.4 0 1 0 -2.8 0zM35 72a1 1 0 1 0 2 0a1 1 0 1 0 -2 0zM44.7 69.5a0.8 0.8 0 1 0 1.6 0a0.8 0.8 0 1 0 -1.6 0zM24.2 75.4L36.2 73L35.8 71L23.8 72.6zM36.3 73L45.7 70.3L45.3 68.7L35.7 71z" fill="#3868d0" filter="url(#b1)" opacity="0.8" transform="translate(1 1.5)"/>
</g>

</g>
</svg>
<svg x="51.3" y="404" width="59.6" height="87" viewBox="0 0 59.6 87" overflow="hidden">
<g filter="url(#nO)">
<rect width="59.6" height="87" fill="url(#gSp)"/>

<g transform="scale(0.9933 1.0000)">
<path d="M23.4 1.5a1.6 1.6 0 1 0 3.1 0a1.6 1.6 0 1 0 -3.1 0zM26.6 3a2.4 2.4 0 1 0 4.8 0a2.4 2.4 0 1 0 -4.8 0zM30.8 6.5a2.7 2.7 0 1 0 5.3 0a2.7 2.7 0 1 0 -5.3 0zM31.2 10a1.8 1.8 0 1 0 3.7 0a1.8 1.8 0 1 0 -3.7 0zM30.4 13.5a0.8 0.8 0 1 0 1.6 0a0.8 0.8 0 1 0 -1.6 0zM24.5 3L28.2 5.2L29.8 0.8L25.5 0zM27.5 4.9L31.9 8.6L35.1 4.4L30.5 1.1zM30.9 6.1L31.2 9.7L34.8 10.3L36.1 6.9zM31.4 9.2L30.5 13.1L31.9 13.9L34.6 10.8zM9.9 22.5a2.4 2.4 0 1 0 4.8 0a2.4 2.4 0 1 0 -4.8 0zM7.1 30a1.9 1.9 0 1 0 3.9 0a1.9 1.9 0 1 0 -3.9 0zM3.5 38.5a1.5 1.5 0 1 0 3 0a1.5 1.5 0 1 0 -3 0zM0.2 46.5a0.8 0.8 0 1 0 1.6 0a0.8 0.8 0 1 0 -1.6 0zM10.1 21.5L7.2 29.2L10.8 30.8L14.5 23.5zM7.2 29.2L3.6 37.9L6.4 39.1L10.8 30.8zM3.7 37.8L0.3 46.1L1.7 46.9L6.3 39.2zM21.4 22.3a2.1 2.1 0 1 0 4.2 0a2.1 2.1 0 1 0 -4.2 0zM31.4 19.5a2.6 2.6 0 1 0 5.2 0a2.6 2.6 0 1 0 -5.2 0zM43.2 16a2.3 2.3 0 1 0 4.6 0a2.3 2.3 0 1 0 -4.6 0zM24 24.3L34.7 22L33.3 17L23 20.3zM34.8 22L46.2 18.2L44.8 13.8L33.2 17zM42.7 18a1.3 1.3 0 1 0 2.5 0a1.3 1.3 0 1 0 -2.5 0zM34 25a1 1 0 1 0 2 0a1 1 0 1 0 -2 0zM24.7 31a1.3 1.3 0 1 0 2.5 0a1.3 1.3 0 1 0 -2.5 0zM43.2 17L34.4 24.2L35.6 25.8L44.8 19zM34.5 24.2L25.3 29.9L26.7 32.1L35.5 25.8zM52 26.8a1.6 1.6 0 1 0 3.1 0a1.6 1.6 0 1 0 -3.1 0zM40.2 30a1.8 1.8 0 1 0 3.7 0a1.8 1.8 0 1 0 -3.7 0zM27.8 34.5a2.2 2.2 0 1 0 4.3 0a2.2 2.2 0 1 0 -4.3 0zM17.3 39.5a2.7 2.7 0 1 0 5.3 0a2.7 2.7 0 1 0 -5.3 0zM12.4 42.3a2.1 2.1 0 1 0 4.2 0a2.1 2.1 0 1 0 -4.2 0zM53.1 25.3L41.5 28.2L42.5 31.8L53.9 28.3zM41.4 28.3L29.2 32.5L30.8 36.5L42.6 31.7zM29 32.6L18.8 37.1L21.2 41.9L31 36.4zM18.8 37.1L13.5 40.4L15.5 44.2L21.2 41.9zM45.1 29.5a1.4 1.4 0 1 0 2.8 0a1.4 1.4 0 1 0 -2.8 0zM41.8 34.5a0.7 0.7 0 1 0 1.4 0a0.7 0.7 0 1 0 -1.4 0zM45.4 28.6L41.9 34.1L43.1 34.9L47.6 30.4zM30.2 42a2.8 2.8 0 1 0 5.5 0a2.8 2.8 0 1 0 -5.5 0zM42.2 41a2.8 2.8 0 1 0 5.5 0a2.8 2.8 0 1 0 -5.5 0zM50.9 41a3.1 3.1 0 1 0 6.2 0a3.1 3.1 0 1 0 -6.2 0zM33.2 44.7L45.2 43.7L44.8 38.3L32.8 39.3zM45 43.8L54 44.1L54 37.9L45 38.2zM50.6 41a3.4 3.4 0 1 0 6.8 0a3.4 3.4 0 1 0 -6.8 0zM52.4 60a3.1 3.1 0 1 0 6.2 0a3.1 3.1 0 1 0 -6.2 0zM54.2 85a2.8 2.8 0 1 0 5.5 0a2.8 2.8 0 1 0 -5.5 0zM50.6 41.3L52.4 60.2L58.6 59.8L57.4 40.7zM52.4 60.2L54.3 85.2L59.7 84.8L58.6 59.8zM24.4 44.5a1.6 1.6 0 1 0 3.2 0a1.6 1.6 0 1 0 -3.2 0zM18.2 56a1.8 1.8 0 1 0 3.5 0a1.8 1.8 0 1 0 -3.5 0zM13.9 68a2.1 2.1 0 1 0 4.2 0a2.1 2.1 0 1 0 -4.2 0zM11.6 75a3.4 3.4 0 1 0 6.8 0a3.4 3.4 0 1 0 -6.8 0zM24.6 43.8L18.4 55.2L21.6 56.8L27.4 45.2zM18.3 55.4L14 67.3L18 68.7L21.7 56.6zM13.9 67.7L11.6 74.5L18.4 75.5L18.1 68.3zM11.3 75a3.7 3.7 0 1 0 7.5 0a3.7 3.7 0 1 0 -7.5 0zM20.9 78a4.1 4.1 0 1 0 8.1 0a4.1 4.1 0 1 0 -8.1 0zM39.6 79.5a3.4 3.4 0 1 0 6.8 0a3.4 3.4 0 1 0 -6.8 0zM48.9 83a3.1 3.1 0 1 0 6.2 0a3.1 3.1 0 1 0 -6.2 0zM54.2 85.5a2.8 2.8 0 1 0 5.5 0a2.8 2.8 0 1 0 -5.5 0zM13.9 78.6L23.8 81.9L26.2 74.1L16.1 71.4zM24.7 82L42.7 82.9L43.3 76.1L25.3 74zM41.8 82.7L50.9 85.9L53.1 80.1L44.2 76.3zM50.6 85.8L55.8 88L58.2 83L53.4 80.2z" fill="#0a0907" filter="url(#b05)"/>
<path d="M36.7 42a4.3 4.3 0 1 0 8.6 0a4.3 4.3 0 1 0 -8.6 0zM26.4 50a4.6 4.6 0 1 0 9.1 0a4.6 4.6 0 1 0 -9.1 0zM19.8 58a2.7 2.7 0 1 0 5.5 0a2.7 2.7 0 1 0 -5.5 0zM38.3 38.6L28.1 46.4L33.9 53.6L43.7 45.4zM27.9 46.7L20.6 56L24.4 60L34.1 53.3zM21.3 58.5a2.7 2.7 0 1 0 5.5 0a2.7 2.7 0 1 0 -5.5 0zM30.5 59a3.5 3.5 0 1 0 7 0a3.5 3.5 0 1 0 -7 0zM40.8 60a2.7 2.7 0 1 0 5.5 0a2.7 2.7 0 1 0 -5.5 0zM23.9 61.2L33.8 62.5L34.2 55.5L24.1 55.8zM33.6 62.5L43.2 62.7L43.8 57.3L34.4 55.5zM40.3 62a2.7 2.7 0 1 0 5.5 0a2.7 2.7 0 1 0 -5.5 0zM28 68a4 4 0 1 0 8.1 0a4 4 0 1 0 -8.1 0zM17.2 72.5a3.8 3.8 0 1 0 7.6 0a3.8 3.8 0 1 0 -7.6 0zM41.7 59.6L30.1 64.5L33.9 71.5L44.3 64.4zM30.5 64.3L19.6 69L22.4 76L33.5 71.7zM20.2 74a3.8 3.8 0 1 0 7.6 0a3.8 3.8 0 1 0 -7.6 0zM33.3 72a2.7 2.7 0 1 0 5.5 0a2.7 2.7 0 1 0 -5.5 0zM43.3 69.5a2.2 2.2 0 1 0 4.4 0a2.2 2.2 0 1 0 -4.4 0zM24.6 77.7L36.4 74.7L35.6 69.3L23.4 70.3zM36.7 74.6L46.1 71.6L44.9 67.4L35.3 69.4z" fill="#0a0907" filter="url(#b05)"/>
</g>

</g>
</svg>
<svg x="236.5" y="405" width="59" height="88" viewBox="0 0 59 88" overflow="hidden">
<g filter="url(#nL)">
<rect width="59" height="88" fill="#565656"/>

<g transform="scale(0.9833 1.0115)">
<path d="M23.9 1.5a1.2 1.2 0 1 0 2.3 0a1.2 1.2 0 1 0 -2.3 0zM27.2 3a1.8 1.8 0 1 0 3.6 0a1.8 1.8 0 1 0 -3.6 0zM31.5 6.5a2 2 0 1 0 4 0a2 2 0 1 0 -4 0zM31.6 10a1.4 1.4 0 1 0 2.7 0a1.4 1.4 0 1 0 -2.7 0zM30.6 13.5a0.6 0.6 0 1 0 1.2 0a0.6 0.6 0 1 0 -1.2 0zM24.6 2.6L28.4 4.7L29.6 1.3L25.4 0.4zM27.9 4.4L32.3 8.1L34.7 4.9L30.1 1.6zM31.5 6.2L31.7 9.8L34.3 10.2L35.5 6.8zM31.8 9.4L30.7 13.2L31.7 13.8L34.2 10.6zM10.5 22.5a1.8 1.8 0 1 0 3.6 0a1.8 1.8 0 1 0 -3.6 0zM7.6 30a1.4 1.4 0 1 0 2.9 0a1.4 1.4 0 1 0 -2.9 0zM3.9 38.5a1.1 1.1 0 1 0 2.2 0a1.1 1.1 0 1 0 -2.2 0zM0.4 46.5a0.6 0.6 0 1 0 1.2 0a0.6 0.6 0 1 0 -1.2 0zM10.7 21.8L7.7 29.4L10.3 30.6L13.9 23.2zM7.7 29.4L4 38L6 39L10.3 30.6zM4 38L0.5 46.2L1.5 46.8L6 39zM21.9 22.3a1.6 1.6 0 1 0 3.1 0a1.6 1.6 0 1 0 -3.1 0zM32.1 19.5a1.9 1.9 0 1 0 3.9 0a1.9 1.9 0 1 0 -3.9 0zM43.8 16a1.7 1.7 0 1 0 3.4 0a1.7 1.7 0 1 0 -3.4 0zM23.9 23.8L34.5 21.4L33.5 17.6L23.1 20.8zM34.6 21.4L46 17.6L45 14.4L33.4 17.6zM43.1 18a0.9 0.9 0 1 0 1.9 0a0.9 0.9 0 1 0 -1.9 0zM34.3 25a0.7 0.7 0 1 0 1.5 0a0.7 0.7 0 1 0 -1.5 0zM25.1 31a0.9 0.9 0 1 0 1.9 0a0.9 0.9 0 1 0 -1.9 0zM43.4 17.3L34.6 24.4L35.4 25.6L44.6 18.7zM34.6 24.4L25.5 30.2L26.5 31.8L35.4 25.6zM52.4 26.8a1.2 1.2 0 1 0 2.3 0a1.2 1.2 0 1 0 -2.3 0zM40.6 30a1.4 1.4 0 1 0 2.7 0a1.4 1.4 0 1 0 -2.7 0zM28.4 34.5a1.6 1.6 0 1 0 3.2 0a1.6 1.6 0 1 0 -3.2 0zM18 39.5a2 2 0 1 0 4 0a2 2 0 1 0 -4 0zM12.9 42.3a1.6 1.6 0 1 0 3.1 0a1.6 1.6 0 1 0 -3.1 0zM53.2 25.7L41.6 28.7L42.4 31.3L53.8 27.9zM41.5 28.7L29.4 33L30.6 36L42.5 31.3zM29.3 33.1L19.1 37.7L20.9 41.3L30.7 35.9zM19.1 37.7L13.8 40.9L15.2 43.7L20.9 41.3zM45.5 29.5a1 1 0 1 0 2 0a1 1 0 1 0 -2 0zM42 34.5a0.5 0.5 0 1 0 1 0a0.5 0.5 0 1 0 -1 0zM45.7 28.9L42.1 34.2L42.9 34.8L47.3 30.1zM30.9 42a2.1 2.1 0 1 0 4.1 0a2.1 2.1 0 1 0 -4.1 0zM43 41a2.1 2.1 0 1 0 4.1 0a2.1 2.1 0 1 0 -4.1 0zM51.7 41a2.3 2.3 0 1 0 4.6 0a2.3 2.3 0 1 0 -4.6 0zM33.2 44L45.2 43L44.8 39L32.8 40zM45 43L54 43.3L54 38.7L45 39zM51.5 41a2.5 2.5 0 1 0 5.1 0a2.5 2.5 0 1 0 -5.1 0zM53.2 60a2.3 2.3 0 1 0 4.6 0a2.3 2.3 0 1 0 -4.6 0zM55 85a2.1 2.1 0 1 0 4.1 0a2.1 2.1 0 1 0 -4.1 0zM51.5 41.2L53.2 60.2L57.8 59.8L56.5 40.8zM53.2 60.1L55 85.1L59 84.9L57.8 59.9zM24.8 44.5a1.2 1.2 0 1 0 2.3 0a1.2 1.2 0 1 0 -2.3 0zM18.7 56a1.3 1.3 0 1 0 2.6 0a1.3 1.3 0 1 0 -2.6 0zM14.4 68a1.6 1.6 0 1 0 3.1 0a1.6 1.6 0 1 0 -3.1 0zM12.5 75a2.5 2.5 0 1 0 5.1 0a2.5 2.5 0 1 0 -5.1 0zM25 44L18.8 55.4L21.2 56.6L27 45zM18.7 55.6L14.5 67.5L17.5 68.5L21.3 56.4zM14.5 67.8L12.5 74.6L17.5 75.4L17.5 68.2zM12.2 75a2.8 2.8 0 1 0 5.6 0a2.8 2.8 0 1 0 -5.6 0zM22 78a3 3 0 1 0 6.1 0a3 3 0 1 0 -6.1 0zM40.5 79.5a2.5 2.5 0 1 0 5.1 0a2.5 2.5 0 1 0 -5.1 0zM49.7 83a2.3 2.3 0 1 0 4.6 0a2.3 2.3 0 1 0 -4.6 0zM55 85.5a2.1 2.1 0 1 0 4.1 0a2.1 2.1 0 1 0 -4.1 0zM14.2 77.7L24.1 80.9L25.9 75.1L15.8 72.3zM24.7 81L42.8 82L43.2 77L25.3 75zM42.1 81.9L51.2 85.1L52.8 80.9L43.9 77.1zM51 85.1L56.1 87.3L57.9 83.7L53 80.9z" fill="#d6d6d6" filter="url(#b05)" transform="translate(0.5 1.7)"/>
<path d="M38.8 42a2.2 2.2 0 1 0 4.4 0a2.2 2.2 0 1 0 -4.4 0zM28.7 50a2.3 2.3 0 1 0 4.7 0a2.3 2.3 0 1 0 -4.7 0zM21.1 58a1.4 1.4 0 1 0 2.8 0a1.4 1.4 0 1 0 -2.8 0zM39.6 40.3L29.5 48.2L32.5 51.8L42.4 43.7zM29.4 48.3L21.6 57L23.4 59L32.6 51.7zM22.6 58.5a1.4 1.4 0 1 0 2.8 0a1.4 1.4 0 1 0 -2.8 0zM32.2 59a1.8 1.8 0 1 0 3.6 0a1.8 1.8 0 1 0 -3.6 0zM42.1 60a1.4 1.4 0 1 0 2.8 0a1.4 1.4 0 1 0 -2.8 0zM23.9 59.9L33.9 60.8L34.1 57.2L24.1 57.1zM33.8 60.8L43.4 61.4L43.6 58.6L34.2 57.2zM41.6 62a1.4 1.4 0 1 0 2.8 0a1.4 1.4 0 1 0 -2.8 0zM29.9 68a2.1 2.1 0 1 0 4.1 0a2.1 2.1 0 1 0 -4.1 0zM19.1 72.5a1.9 1.9 0 1 0 3.9 0a1.9 1.9 0 1 0 -3.9 0zM42.3 60.8L31 66.2L33 69.8L43.7 63.2zM31.2 66.1L20.3 70.7L21.7 74.3L32.8 69.9zM22.1 74a1.9 1.9 0 1 0 3.9 0a1.9 1.9 0 1 0 -3.9 0zM34.6 72a1.4 1.4 0 1 0 2.8 0a1.4 1.4 0 1 0 -2.8 0zM44.4 69.5a1.1 1.1 0 1 0 2.2 0a1.1 1.1 0 1 0 -2.2 0zM24.3 75.9L36.2 73.4L35.8 70.6L23.7 72.1zM36.3 73.3L45.8 70.6L45.2 68.4L35.7 70.7z" fill="#c4c4c4" filter="url(#b05)" transform="translate(0.5 1.9)"/>
<path d="M24 1.5a1 1 0 1 0 2 0a1 1 0 1 0 -2 0zM27.4 3a1.6 1.6 0 1 0 3.2 0a1.6 1.6 0 1 0 -3.2 0zM31.7 6.5a1.8 1.8 0 1 0 3.6 0a1.8 1.8 0 1 0 -3.6 0zM31.8 10a1.2 1.2 0 1 0 2.4 0a1.2 1.2 0 1 0 -2.4 0zM30.7 13.5a0.5 0.5 0 1 0 1 0a0.5 0.5 0 1 0 -1 0zM24.6 2.4L28.4 4.5L29.6 1.5L25.4 0.6zM28 4.3L32.4 7.9L34.6 5.1L30 1.7zM31.7 6.2L31.8 9.8L34.2 10.2L35.3 6.8zM31.9 9.4L30.8 13.3L31.6 13.7L34.1 10.6zM10.7 22.5a1.6 1.6 0 1 0 3.2 0a1.6 1.6 0 1 0 -3.2 0zM7.7 30a1.3 1.3 0 1 0 2.6 0a1.3 1.3 0 1 0 -2.6 0zM4 38.5a1 1 0 1 0 1.9 0a1 1 0 1 0 -1.9 0zM0.5 46.5a0.5 0.5 0 1 0 1 0a0.5 0.5 0 1 0 -1 0zM10.8 21.9L7.8 29.5L10.2 30.5L13.8 23.1zM7.8 29.5L4.1 38.1L5.9 38.9L10.2 30.5zM4.1 38.1L0.6 46.3L1.4 46.7L5.9 38.9zM22.1 22.3a1.4 1.4 0 1 0 2.8 0a1.4 1.4 0 1 0 -2.8 0zM32.2 19.5a1.8 1.8 0 1 0 3.5 0a1.8 1.8 0 1 0 -3.5 0zM44 16a1.5 1.5 0 1 0 3.1 0a1.5 1.5 0 1 0 -3.1 0zM23.9 23.7L34.5 21.2L33.5 17.8L23.1 20.9zM34.5 21.2L45.9 17.5L45.1 14.5L33.5 17.8zM43.2 18a0.8 0.8 0 1 0 1.6 0a0.8 0.8 0 1 0 -1.6 0zM34.4 25a0.6 0.6 0 1 0 1.2 0a0.6 0.6 0 1 0 -1.2 0zM25.2 31a0.8 0.8 0 1 0 1.6 0a0.8 0.8 0 1 0 -1.6 0zM43.5 17.4L34.6 24.5L35.4 25.5L44.5 18.6zM34.7 24.5L25.6 30.3L26.4 31.7L35.3 25.5zM52.5 26.8a1 1 0 1 0 2 0a1 1 0 1 0 -2 0zM40.8 30a1.2 1.2 0 1 0 2.4 0a1.2 1.2 0 1 0 -2.4 0zM28.5 34.5a1.5 1.5 0 1 0 2.9 0a1.5 1.5 0 1 0 -2.9 0zM18.2 39.5a1.8 1.8 0 1 0 3.6 0a1.8 1.8 0 1 0 -3.6 0zM13.1 42.3a1.4 1.4 0 1 0 2.8 0a1.4 1.4 0 1 0 -2.8 0zM53.2 25.8L41.7 28.8L42.3 31.2L53.8 27.8zM41.6 28.9L29.5 33.1L30.5 35.9L42.4 31.1zM29.4 33.2L19.2 37.9L20.8 41.1L30.6 35.8zM19.2 37.9L13.9 41L15.1 43.6L20.8 41.1zM45.6 29.5a0.9 0.9 0 1 0 1.8 0a0.9 0.9 0 1 0 -1.8 0zM42.1 34.5a0.4 0.4 0 1 0 0.8 0a0.4 0.4 0 1 0 -0.8 0zM45.8 28.9L42.2 34.2L42.8 34.8L47.2 30.1zM31.1 42a1.9 1.9 0 1 0 3.7 0a1.9 1.9 0 1 0 -3.7 0zM43.1 41a1.9 1.9 0 1 0 3.7 0a1.9 1.9 0 1 0 -3.7 0zM51.9 41a2.1 2.1 0 1 0 4.2 0a2.1 2.1 0 1 0 -4.2 0zM33.2 43.9L45.2 42.9L44.8 39.1L32.8 40.1zM45 42.9L54 43.1L54 38.9L45 39.1zM51.7 41a2.3 2.3 0 1 0 4.7 0a2.3 2.3 0 1 0 -4.7 0zM53.4 60a2.1 2.1 0 1 0 4.2 0a2.1 2.1 0 1 0 -4.2 0zM55.1 85a1.9 1.9 0 1 0 3.7 0a1.9 1.9 0 1 0 -3.7 0zM51.7 41.2L53.4 60.2L57.6 59.8L56.3 40.8zM53.4 60.1L55.1 85.1L58.9 84.9L57.6 59.9zM25 44.5a1 1 0 1 0 2.1 0a1 1 0 1 0 -2.1 0zM18.8 56a1.2 1.2 0 1 0 2.3 0a1.2 1.2 0 1 0 -2.3 0zM14.6 68a1.4 1.4 0 1 0 2.8 0a1.4 1.4 0 1 0 -2.8 0zM12.7 75a2.3 2.3 0 1 0 4.7 0a2.3 2.3 0 1 0 -4.7 0zM25.1 44L19 55.5L21 56.5L26.9 45zM18.9 55.6L14.7 67.6L17.3 68.4L21.1 56.4zM14.6 67.8L12.7 74.7L17.3 75.3L17.4 68.2zM12.4 75a2.6 2.6 0 1 0 5.1 0a2.6 2.6 0 1 0 -5.1 0zM22.2 78a2.8 2.8 0 1 0 5.6 0a2.8 2.8 0 1 0 -5.6 0zM40.7 79.5a2.3 2.3 0 1 0 4.7 0a2.3 2.3 0 1 0 -4.7 0zM49.9 83a2.1 2.1 0 1 0 4.2 0a2.1 2.1 0 1 0 -4.2 0zM55.1 85.5a1.9 1.9 0 1 0 3.7 0a1.9 1.9 0 1 0 -3.7 0zM14.3 77.5L24.2 80.7L25.8 75.3L15.7 72.5zM24.8 80.8L42.8 81.8L43.2 77.2L25.2 75.2zM42.2 81.7L51.2 85L52.8 81L43.8 77.3zM51.1 84.9L56.2 87.2L57.8 83.8L52.9 81.1z" fill="#2a2a2a" filter="url(#b05)"/>
<path d="M38.6 42a2.4 2.4 0 1 0 4.8 0a2.4 2.4 0 1 0 -4.8 0zM28.4 50a2.5 2.5 0 1 0 5.1 0a2.5 2.5 0 1 0 -5.1 0zM21 58a1.5 1.5 0 1 0 3 0a1.5 1.5 0 1 0 -3 0zM39.5 40.1L29.4 48L32.6 52L42.5 43.9zM29.3 48.1L21.5 56.9L23.5 59.1L32.7 51.9zM22.5 58.5a1.5 1.5 0 1 0 3 0a1.5 1.5 0 1 0 -3 0zM32 59a1.9 1.9 0 1 0 3.9 0a1.9 1.9 0 1 0 -3.9 0zM42 60a1.5 1.5 0 1 0 3 0a1.5 1.5 0 1 0 -3 0zM23.9 60L33.9 60.9L34.1 57.1L24.1 57zM33.8 60.9L43.3 61.5L43.7 58.5L34.2 57.1zM41.5 62a1.5 1.5 0 1 0 3 0a1.5 1.5 0 1 0 -3 0zM29.8 68a2.2 2.2 0 1 0 4.5 0a2.2 2.2 0 1 0 -4.5 0zM18.9 72.5a2.1 2.1 0 1 0 4.2 0a2.1 2.1 0 1 0 -4.2 0zM42.3 60.7L30.9 66L33.1 70L43.7 63.3zM31.1 65.9L20.2 70.6L21.8 74.4L32.9 70.1zM21.9 74a2.1 2.1 0 1 0 4.2 0a2.1 2.1 0 1 0 -4.2 0zM34.5 72a1.5 1.5 0 1 0 3 0a1.5 1.5 0 1 0 -3 0zM44.3 69.5a1.2 1.2 0 1 0 2.4 0a1.2 1.2 0 1 0 -2.4 0zM24.3 76.1L36.2 73.5L35.8 70.5L23.7 71.9zM36.4 73.5L45.8 70.7L45.2 68.3L35.6 70.5z" fill="#303030" filter="url(#b05)"/>
</g>

</g>
</svg>
<circle cx="628.3" cy="318.4" r="12.1" fill="#fff" stroke="#000" stroke-width="1.15"/>
<rect x="626.2" y="317.2" width="3" height="3.6" fill="#000"/>
<rect x="863.2" y="276.3" width="59" height="195.7" rx="10" ry="10" fill="none" stroke="#3863b0" stroke-width="2.1" stroke-dasharray="7.5 6 2.5 6" stroke-dashoffset="-6.3"/>
<g stroke="#7a5c00" stroke-width="0.7" stroke-linejoin="round">
<polygon points="870.8,290.8 898.9,290.8 914.1,281.9 885.7,281.9" fill="#ffc61e"/>
<polygon points="870.8,290.8 898.9,290.8 898.9,296.1 870.8,296.1" fill="#f4b70a"/>
<polygon points="898.9,290.8 914.1,281.9 914.1,287.2 898.9,296.1" fill="#dba400"/>
</g>
<g stroke="#8a3050" stroke-width="0.7" stroke-linejoin="round">
<polygon points="870.8,309.3 898.9,309.3 914.1,300.4 885.7,300.4" fill="#ff6c9e"/>
<polygon points="870.8,309.3 898.9,309.3 898.9,314.6 870.8,314.6" fill="#f4608f"/>
<polygon points="898.9,309.3 914.1,300.4 914.1,305.7 898.9,314.6" fill="#e0507f"/>
</g>
<g stroke="#8a3050" stroke-width="0.7" stroke-linejoin="round">
<polygon points="870.8,327.8 898.9,327.8 914.1,318.9 885.7,318.9" fill="#ff6c9e"/>
<polygon points="870.8,327.8 898.9,327.8 898.9,333.1 870.8,333.1" fill="#f4608f"/>
<polygon points="898.9,327.8 914.1,318.9 914.1,324.2 898.9,333.1" fill="#e0507f"/>
</g>
<g stroke="#8a3050" stroke-width="0.7" stroke-linejoin="round">
<polygon points="870.8,346.3 898.9,346.3 914.1,337.4 885.7,337.4" fill="#ff6c9e"/>
<polygon points="870.8,346.3 898.9,346.3 898.9,351.6 870.8,351.6" fill="#f4608f"/>
<polygon points="898.9,346.3 914.1,337.4 914.1,342.7 898.9,351.6" fill="#e0507f"/>
</g>
<g stroke="#4a6a78" stroke-width="0.7" stroke-linejoin="round">
<polygon points="870.8,364.8 898.9,364.8 914.1,355.9 885.7,355.9" fill="#a9dff0"/>
<polygon points="870.8,364.8 898.9,364.8 898.9,370.1 870.8,370.1" fill="#9bd4e8"/>
<polygon points="898.9,364.8 914.1,355.9 914.1,361.2 898.9,370.1" fill="#86c2d8"/>
</g>
<g stroke="#4a6a78" stroke-width="0.7" stroke-linejoin="round">
<polygon points="870.8,383.3 898.9,383.3 914.1,374.4 885.7,374.4" fill="#a9dff0"/>
<polygon points="870.8,383.3 898.9,383.3 898.9,388.6 870.8,388.6" fill="#9bd4e8"/>
<polygon points="898.9,383.3 914.1,374.4 914.1,379.7 898.9,388.6" fill="#86c2d8"/>
</g>
<g stroke="#4a6a78" stroke-width="0.7" stroke-linejoin="round">
<polygon points="870.8,401.8 898.9,401.8 914.1,392.9 885.7,392.9" fill="#a9dff0"/>
<polygon points="870.8,401.8 898.9,401.8 898.9,407.1 870.8,407.1" fill="#9bd4e8"/>
<polygon points="898.9,401.8 914.1,392.9 914.1,398.2 898.9,407.1" fill="#86c2d8"/>
</g>
<g stroke="#7a5c00" stroke-width="0.7" stroke-linejoin="round">
<polygon points="870.8,420.3 898.9,420.3 914.1,411.4 885.7,411.4" fill="#ffc61e"/>
<polygon points="870.8,420.3 898.9,420.3 898.9,425.6 870.8,425.6" fill="#f4b70a"/>
<polygon points="898.9,420.3 914.1,411.4 914.1,416.7 898.9,425.6" fill="#dba400"/>
</g>
<g stroke="#5c5c5c" stroke-width="0.7" stroke-linejoin="round">
<polygon points="870.8,438.8 898.9,438.8 914.1,429.9 885.7,429.9" fill="#c6c6c6"/>
<polygon points="870.8,438.8 898.9,438.8 898.9,444.1 870.8,444.1" fill="#b8b8b8"/>
<polygon points="898.9,438.8 914.1,429.9 914.1,435.2 898.9,444.1" fill="#a2a2a2"/>
</g>
<g stroke="#6a6a6a" stroke-width="0.7" stroke-linejoin="round">
<polygon points="870.8,457.3 898.9,457.3 914.1,448.4 885.7,448.4" fill="#ffffff"/>
<polygon points="870.8,457.3 898.9,457.3 898.9,462.6 870.8,462.6" fill="#ffffff"/>
<polygon points="898.9,457.3 914.1,448.4 914.1,453.7 898.9,462.6" fill="#f6f6f6"/>
</g>
<circle cx="856.4" cy="536.5" r="19.3" fill="#fff" stroke="#8cc63f" stroke-width="3.1"/>
<path d="M845.6 534.4 L854.2 542.2 L866.8 529" fill="none" stroke="#8cc63f" stroke-width="4.2"/>
<circle cx="927.5" cy="536.5" r="19.3" fill="#fff" stroke="#dc2a4c" stroke-width="3.1"/>
<path d="M920.2 529.2 L935.2 544.4 M935.2 529.2 L920.2 544.4" fill="none" stroke="#dc2a4c" stroke-width="4.4"/>
<text x="21" y="271.8" text-anchor="start">Spectral Image</text>
<text x="25.5" y="511.5" text-anchor="start">Spatial Image</text>
<text x="164.5" y="180.8" text-anchor="start">PCA</text>
<text x="301.5" y="181" text-anchor="start">RGB<tspan font-size="30" dx="-5.75" dy="0.4">→</tspan><tspan dx="-4.25" dy="-0.4">HSI</tspan></text>
<text x="762.5" y="180.8" text-anchor="start">HSI<tspan font-size="30" dx="-5.75" dy="0.4">→</tspan><tspan dx="-4.25" dy="-0.4">RGB</tspan></text>
<text x="115.5" y="440.6" letter-spacing="-0.12">Circular LBP</text>
<text x="376.5" y="441" letter-spacing="0.16">NSST-PCNN Fusion</text>
<text x="721.5" y="381.3" text-anchor="start">EfficientNet v2-s</text>
<text x="842" y="251.5" text-anchor="start">Fused Image</text>
<text x="900" y="490.8" text-anchor="start">Softmax</text>
<text x="814.5" y="572.5" text-anchor="start">Authentic</text>
<text x="908.8" y="574.8" text-anchor="start">Fake</text>
<text x="500" y="53.5" text-anchor="start">H</text>
<text x="502.6" y="180" text-anchor="start">S</text>
<text x="506" y="309" text-anchor="start">I</text>
<text x="734.1" y="53.5" text-anchor="start">H’</text>
<text x="736.5" y="180.5" text-anchor="start">S’</text>
<text x="737.4" y="309" text-anchor="start">I’</text>
</svg>
</body></html>
